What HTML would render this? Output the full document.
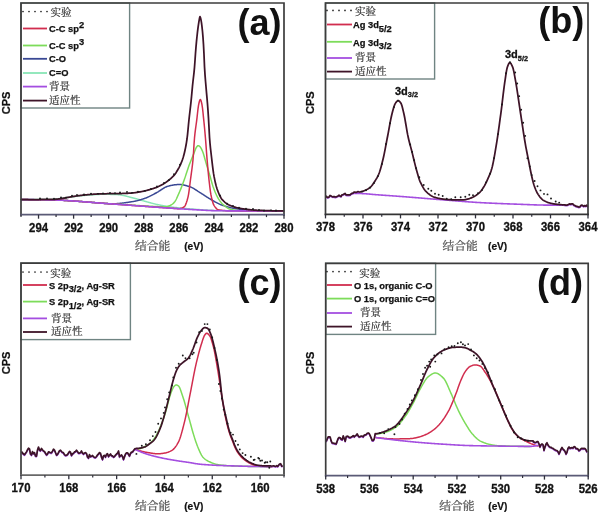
<!DOCTYPE html>
<html><head><meta charset="utf-8"><style>
html,body{margin:0;padding:0;background:#fff;}
svg{display:block;}
.tk{font-family:"Liberation Sans",sans-serif;font-weight:bold;font-size:12.2px;text-anchor:middle;fill:#111;stroke:#111;stroke-width:0.3px;}
.lg{font-family:"Liberation Sans",sans-serif;font-weight:bold;font-size:9.3px;fill:#111;stroke:#111;stroke-width:0.25px;}
.pk{font-family:"Liberation Sans",sans-serif;font-weight:bold;font-size:11px;fill:#111;stroke:#111;stroke-width:0.3px;}
.pks{font-size:7.3px;}
.cjk{font-family:"Liberation Serif","Noto Serif CJK SC",serif;font-size:10.5px;fill:#333;stroke:#333;stroke-width:0.2px;}
.cjkx{font-family:"Liberation Serif","Noto Serif CJK SC",serif;font-size:11.8px;fill:#555;stroke:#555;stroke-width:0.25px;}
.evx{font-family:"Liberation Sans",sans-serif;font-weight:bold;font-size:11.3px;fill:#111;stroke:#111;stroke-width:0.2px;}
.cps{font-family:"Liberation Sans",sans-serif;font-weight:bold;font-size:11px;fill:#111;text-anchor:middle;stroke:#111;stroke-width:0.25px;}
.big{font-family:"Liberation Sans",sans-serif;font-weight:bold;font-size:36px;fill:#111;}
</style></head><body>
<svg width="600" height="513" viewBox="0 0 600 513">
<rect width="600" height="513" fill="#fff"/>
<path d="M21.50,199.60 L22.00,199.60 L22.50,199.60 L23.00,199.60 L23.50,199.60 L24.00,199.60 L24.50,199.60 L25.00,199.60 L25.50,199.60 L26.00,199.60 L26.50,199.60 L27.00,199.60 L27.50,199.60 L28.00,199.60 L28.50,199.59 L29.00,199.59 L29.50,199.59 L30.00,199.59 L30.50,199.59 L31.00,199.59 L31.50,199.59 L32.00,199.59 L32.50,199.59 L33.00,199.58 L33.50,199.58 L34.00,199.58 L34.50,199.58 L35.00,199.58 L35.50,199.58 L36.00,199.58 L36.50,199.57 L37.00,199.57 L37.50,199.57 L38.00,199.57 L38.50,199.57 L39.00,199.56 L39.50,199.56 L40.00,199.56 L40.50,199.56 L41.00,199.56 L41.50,199.55 L42.00,199.55 L42.50,199.55 L43.00,199.55 L43.50,199.54 L44.00,199.54 L44.50,199.54 L45.00,199.53 L45.50,199.53 L46.00,199.53 L46.50,199.52 L47.00,199.52 L47.50,199.52 L48.00,199.51 L48.50,199.51 L49.00,199.51 L49.50,199.50 L50.00,199.50 L50.50,199.49 L51.00,199.48 L51.50,199.45 L52.00,199.42 L52.50,199.39 L53.00,199.35 L53.50,199.30 L54.00,199.25 L54.50,199.19 L55.00,199.13 L55.50,199.06 L56.00,199.00 L56.50,198.93 L57.00,198.85 L57.50,198.78 L58.00,198.71 L58.50,198.63 L59.00,198.56 L59.50,198.48 L60.00,198.41 L60.50,198.33 L61.00,198.26 L61.50,198.19 L62.00,198.12 L62.50,198.06 L63.00,198.00 L63.50,197.94 L64.00,197.88 L64.50,197.82 L65.00,197.76 L65.50,197.70 L66.00,197.64 L66.50,197.57 L67.00,197.51 L67.50,197.44 L68.00,197.38 L68.50,197.31 L69.00,197.25 L69.50,197.18 L70.00,197.12 L70.50,197.05 L71.00,196.99 L71.50,196.92 L72.00,196.85 L72.50,196.79 L73.00,196.72 L73.50,196.66 L74.00,196.59 L74.50,196.53 L75.00,196.47 L75.50,196.40 L76.00,196.34 L76.50,196.28 L77.00,196.22 L77.50,196.15 L78.00,196.09 L78.50,196.04 L79.00,195.98 L79.50,195.92 L80.00,195.86 L80.50,195.81 L81.00,195.76 L81.50,195.70 L82.00,195.65 L82.50,195.60 L83.00,195.55 L83.50,195.51 L84.00,195.46 L84.50,195.42 L85.00,195.38 L85.50,195.34 L86.00,195.30 L86.50,195.26 L87.00,195.22 L87.50,195.19 L88.00,195.15 L88.50,195.11 L89.00,195.07 L89.50,195.03 L90.00,194.99 L90.50,194.96 L91.00,194.92 L91.50,194.88 L92.00,194.84 L92.50,194.81 L93.00,194.77 L93.50,194.73 L94.00,194.70 L94.50,194.67 L95.00,194.63 L95.50,194.60 L96.00,194.57 L96.50,194.54 L97.00,194.51 L97.50,194.49 L98.00,194.46 L98.50,194.44 L99.00,194.41 L99.50,194.39 L100.00,194.37 L100.50,194.36 L101.00,194.34 L101.50,194.33 L102.00,194.32 L102.50,194.31 L103.00,194.31 L103.50,194.30 L104.00,194.30 L104.50,194.30 L105.00,194.30 L105.50,194.30 L106.00,194.31 L106.50,194.31 L107.00,194.32 L107.50,194.33 L108.00,194.33 L108.50,194.34 L109.00,194.35 L109.50,194.36 L110.00,194.37 L110.50,194.38 L111.00,194.40 L111.50,194.41 L112.00,194.42 L112.50,194.44 L113.00,194.45 L113.50,194.47 L114.00,194.49 L114.50,194.51 L115.00,194.52 L115.50,194.54 L116.00,194.56 L116.50,194.58 L117.00,194.60 L117.50,194.62 L118.00,194.66 L118.50,194.70 L119.00,194.75 L119.50,194.81 L120.00,194.87 L120.50,194.95 L121.00,195.03 L121.50,195.11 L122.00,195.20 L122.50,195.30 L123.00,195.40 L123.50,195.51 L124.00,195.62 L124.50,195.73 L125.00,195.85 L125.50,195.98 L126.00,196.10 L126.50,196.23 L127.00,196.36 L127.50,196.49 L128.00,196.62 L128.50,196.75 L129.00,196.89 L129.50,197.02 L130.00,197.15 L130.50,197.29 L131.00,197.42 L131.50,197.55 L132.00,197.68 L132.50,197.80 L133.00,197.93 L133.50,198.05 L134.00,198.17 L134.50,198.30 L135.00,198.43 L135.50,198.57 L136.00,198.70 L136.50,198.84 L137.00,198.98 L137.50,199.12 L138.00,199.27 L138.50,199.41 L139.00,199.56 L139.50,199.71 L140.00,199.85 L140.50,200.00 L141.00,200.15 L141.50,200.30 L142.00,200.45 L142.50,200.59 L143.00,200.74 L143.50,200.88 L144.00,201.02 L144.50,201.16 L145.00,201.30 L145.50,201.44 L146.00,201.58 L146.50,201.72 L147.00,201.86 L147.50,202.00 L148.00,202.14 L148.50,202.28 L149.00,202.42 L149.50,202.56 L150.00,202.70 L150.50,202.84 L151.00,202.98 L151.50,203.11 L152.00,203.25 L152.50,203.38 L153.00,203.51 L153.50,203.64 L154.00,203.77 L154.50,203.89 L155.00,204.01 L155.50,204.13 L156.00,204.25 L156.50,204.36 L157.00,204.46 L157.50,204.57 L158.00,204.68 L158.50,204.78 L159.00,204.89 L159.50,204.99 L160.00,205.09 L160.50,205.19 L161.00,205.29 L161.50,205.39 L162.00,205.48 L162.50,205.58 L163.00,205.67 L163.50,205.76 L164.00,205.85 L164.50,205.94 L165.00,206.03 L165.50,206.11 L166.00,206.20 L166.50,206.28 L167.00,206.36 L167.50,206.44 L168.00,206.51 L168.50,206.59 L169.00,206.66 L169.50,206.73 L170.00,206.80 L170.50,206.87 L171.00,206.93 L171.50,207.00 L172.00,207.06 L172.50,207.13 L173.00,207.19 L173.50,207.25 L174.00,207.32 L174.50,207.38 L175.00,207.44 L175.50,207.50 L176.00,207.56 L176.50,207.61 L177.00,207.67 L177.50,207.73 L178.00,207.78 L178.50,207.84 L179.00,207.89 L179.50,207.95 L180.00,208.00 L180.50,208.05 L181.00,208.10 L181.50,208.15 L182.00,208.20 L182.50,208.25 L183.00,208.30 L183.50,208.35 L184.00,208.40 L184.50,208.44 L185.00,208.49 L185.50,208.53 L186.00,208.58 L186.50,208.62 L187.00,208.66 L187.50,208.70 L188.00,208.74 L188.50,208.78 L189.00,208.82 L189.50,208.86 L190.00,208.90 L190.50,208.94 L191.00,208.98 L191.50,209.01 L192.00,209.05 L192.50,209.09 L193.00,209.13 L193.50,209.16 L194.00,209.20 L194.50,209.24 L195.00,209.28 L195.50,209.32 L196.00,209.35 L196.50,209.39 L197.00,209.43 L197.50,209.46 L198.00,209.50 L198.50,209.54 L199.00,209.57 L199.50,209.61 L200.00,209.65 L200.50,209.68 L201.00,209.72 L201.50,209.75 L202.00,209.79 L202.50,209.82 L203.00,209.85 L203.50,209.89 L204.00,209.92 L204.50,209.95 L205.00,209.98 L205.50,210.02 L206.00,210.05 L206.50,210.08 L207.00,210.11 L207.50,210.14 L208.00,210.16 L208.50,210.19 L209.00,210.22 L209.50,210.25 L210.00,210.27 L210.50,210.30 L211.00,210.32 L211.50,210.34 L212.00,210.37 L212.50,210.39 L213.00,210.41 L213.50,210.43 L214.00,210.45 L214.50,210.47 L215.00,210.48 L215.50,210.50 L216.00,210.51 L216.50,210.53 L217.00,210.54 L217.50,210.55 L218.00,210.57 L218.50,210.58 L219.00,210.59 L219.50,210.59 L220.00,210.60 L220.50,210.61 L221.00,210.61 L221.50,210.62 L222.00,210.62 L222.50,210.63 L223.00,210.64 L223.50,210.64 L224.00,210.65 L224.50,210.65 L225.00,210.66 L225.50,210.67 L226.00,210.67 L226.50,210.68 L227.00,210.68 L227.50,210.69 L228.00,210.69 L228.50,210.70 L229.00,210.70 L229.50,210.71 L230.00,210.71 L230.50,210.72 L231.00,210.73 L231.50,210.73 L232.00,210.74 L232.50,210.74 L233.00,210.75 L233.50,210.75 L234.00,210.76 L234.50,210.76 L235.00,210.77 L235.50,210.77 L236.00,210.77 L236.50,210.78 L237.00,210.78 L237.50,210.79 L238.00,210.79 L238.50,210.80 L239.00,210.80 L239.50,210.81 L240.00,210.81 L240.50,210.81 L241.00,210.82 L241.50,210.82 L242.00,210.83 L242.50,210.83 L243.00,210.84 L243.50,210.84 L244.00,210.84 L244.50,210.85 L245.00,210.85 L245.50,210.85 L246.00,210.86 L246.50,210.86 L247.00,210.87 L247.50,210.87 L248.00,210.87 L248.50,210.88 L249.00,210.88 L249.50,210.88 L250.00,210.89 L250.50,210.89 L251.00,210.89 L251.50,210.90 L252.00,210.90 L252.50,210.90 L253.00,210.91 L253.50,210.91 L254.00,210.91 L254.50,210.91 L255.00,210.92 L255.50,210.92 L256.00,210.92 L256.50,210.93 L257.00,210.93 L257.50,210.93 L258.00,210.93 L258.50,210.94 L259.00,210.94 L259.50,210.94 L260.00,210.94 L260.50,210.95 L261.00,210.95 L261.50,210.95 L262.00,210.95 L262.50,210.95 L263.00,210.96 L263.50,210.96 L264.00,210.96 L264.50,210.96 L265.00,210.96 L265.50,210.97 L266.00,210.97 L266.50,210.97 L267.00,210.97 L267.50,210.97 L268.00,210.97 L268.50,210.98 L269.00,210.98 L269.50,210.98 L270.00,210.98 L270.50,210.98 L271.00,210.98 L271.50,210.98 L272.00,210.99 L272.50,210.99 L273.00,210.99 L273.50,210.99 L274.00,210.99 L274.50,210.99 L275.00,210.99 L275.50,210.99 L276.00,210.99 L276.50,210.99 L277.00,211.00 L277.50,211.00 L278.00,211.00 L278.50,211.00 L279.00,211.00 L279.50,211.00 L280.00,211.00 L280.50,211.00 L281.00,211.00 L281.50,211.00 L282.00,211.00 L282.50,211.00 L283.00,211.00 L283.50,211.00" fill="none" stroke="#88e6b6" stroke-width="1.50" stroke-linejoin="round" stroke-linecap="round"/>
<path d="M21.50,199.60 L22.00,199.60 L22.50,199.60 L23.00,199.60 L23.50,199.60 L24.00,199.60 L24.50,199.61 L25.00,199.61 L25.50,199.61 L26.00,199.61 L26.50,199.61 L27.00,199.62 L27.50,199.62 L28.00,199.62 L28.50,199.63 L29.00,199.63 L29.50,199.63 L30.00,199.64 L30.50,199.64 L31.00,199.64 L31.50,199.65 L32.00,199.65 L32.50,199.66 L33.00,199.66 L33.50,199.67 L34.00,199.67 L34.50,199.68 L35.00,199.68 L35.50,199.69 L36.00,199.69 L36.50,199.70 L37.00,199.71 L37.50,199.71 L38.00,199.72 L38.50,199.72 L39.00,199.73 L39.50,199.74 L40.00,199.74 L40.50,199.75 L41.00,199.76 L41.50,199.76 L42.00,199.77 L42.50,199.78 L43.00,199.79 L43.50,199.79 L44.00,199.80 L44.50,199.81 L45.00,199.82 L45.50,199.83 L46.00,199.83 L46.50,199.84 L47.00,199.85 L47.50,199.86 L48.00,199.87 L48.50,199.87 L49.00,199.88 L49.50,199.89 L50.00,199.90 L50.50,199.91 L51.00,199.92 L51.50,199.93 L52.00,199.94 L52.50,199.95 L53.00,199.96 L53.50,199.98 L54.00,199.99 L54.50,200.00 L55.00,200.02 L55.50,200.04 L56.00,200.05 L56.50,200.07 L57.00,200.09 L57.50,200.11 L58.00,200.12 L58.50,200.14 L59.00,200.16 L59.50,200.19 L60.00,200.21 L60.50,200.23 L61.00,200.25 L61.50,200.28 L62.00,200.30 L62.50,200.32 L63.00,200.35 L63.50,200.37 L64.00,200.40 L64.50,200.43 L65.00,200.45 L65.50,200.48 L66.00,200.51 L66.50,200.54 L67.00,200.57 L67.50,200.60 L68.00,200.63 L68.50,200.66 L69.00,200.69 L69.50,200.72 L70.00,200.75 L70.50,200.78 L71.00,200.82 L71.50,200.85 L72.00,200.88 L72.50,200.92 L73.00,200.95 L73.50,200.98 L74.00,201.02 L74.50,201.05 L75.00,201.09 L75.50,201.12 L76.00,201.16 L76.50,201.20 L77.00,201.23 L77.50,201.27 L78.00,201.31 L78.50,201.34 L79.00,201.38 L79.50,201.42 L80.00,201.46 L80.50,201.50 L81.00,201.53 L81.50,201.57 L82.00,201.61 L82.50,201.65 L83.00,201.69 L83.50,201.73 L84.00,201.77 L84.50,201.81 L85.00,201.85 L85.50,201.89 L86.00,201.93 L86.50,201.97 L87.00,202.01 L87.50,202.05 L88.00,202.09 L88.50,202.13 L89.00,202.17 L89.50,202.21 L90.00,202.25 L90.50,202.29 L91.00,202.33 L91.50,202.37 L92.00,202.41 L92.50,202.45 L93.00,202.49 L93.50,202.53 L94.00,202.58 L94.50,202.62 L95.00,202.66 L95.50,202.70 L96.00,202.74 L96.50,202.78 L97.00,202.82 L97.50,202.86 L98.00,202.90 L98.50,202.94 L99.00,202.98 L99.50,203.02 L100.00,203.06 L100.50,203.10 L101.00,203.13 L101.50,203.17 L102.00,203.21 L102.50,203.25 L103.00,203.29 L103.50,203.33 L104.00,203.37 L104.50,203.40 L105.00,203.44 L105.50,203.48 L106.00,203.51 L106.50,203.55 L107.00,203.59 L107.50,203.62 L108.00,203.66 L108.50,203.70 L109.00,203.73 L109.50,203.77 L110.00,203.80 L110.50,203.83 L111.00,203.87 L111.50,203.89 L112.00,203.87 L112.50,203.86 L113.00,203.84 L113.50,203.82 L114.00,203.80 L114.50,203.78 L115.00,203.75 L115.50,203.72 L116.00,203.69 L116.50,203.65 L117.00,203.61 L117.50,203.57 L118.00,203.53 L118.50,203.49 L119.00,203.44 L119.50,203.39 L120.00,203.34 L120.50,203.29 L121.00,203.23 L121.50,203.18 L122.00,203.12 L122.50,203.06 L123.00,203.00 L123.50,202.93 L124.00,202.87 L124.50,202.81 L125.00,202.74 L125.50,202.67 L126.00,202.60 L126.50,202.53 L127.00,202.46 L127.50,202.39 L128.00,202.31 L128.50,202.24 L129.00,202.17 L129.50,202.09 L130.00,202.01 L130.50,201.94 L131.00,201.86 L131.50,201.78 L132.00,201.70 L132.50,201.63 L133.00,201.55 L133.50,201.47 L134.00,201.38 L134.50,201.29 L135.00,201.20 L135.50,201.09 L136.00,200.98 L136.50,200.87 L137.00,200.75 L137.50,200.63 L138.00,200.50 L138.50,200.36 L139.00,200.22 L139.50,200.08 L140.00,199.94 L140.50,199.79 L141.00,199.63 L141.50,199.47 L142.00,199.31 L142.50,199.15 L143.00,198.99 L143.50,198.82 L144.00,198.65 L144.50,198.47 L145.00,198.30 L145.50,198.12 L146.00,197.93 L146.50,197.73 L147.00,197.53 L147.50,197.31 L148.00,197.09 L148.50,196.86 L149.00,196.62 L149.50,196.38 L150.00,196.14 L150.50,195.89 L151.00,195.63 L151.50,195.37 L152.00,195.11 L152.50,194.85 L153.00,194.58 L153.50,194.31 L154.00,194.05 L154.50,193.78 L155.00,193.51 L155.50,193.24 L156.00,192.97 L156.50,192.71 L157.00,192.44 L157.50,192.16 L158.00,191.86 L158.50,191.56 L159.00,191.24 L159.50,190.91 L160.00,190.58 L160.50,190.25 L161.00,189.92 L161.50,189.58 L162.00,189.25 L162.50,188.93 L163.00,188.61 L163.50,188.30 L164.00,188.00 L164.50,187.71 L165.00,187.44 L165.50,187.19 L166.00,186.96 L166.50,186.75 L167.00,186.56 L167.50,186.40 L168.00,186.25 L168.50,186.11 L169.00,185.97 L169.50,185.84 L170.00,185.71 L170.50,185.59 L171.00,185.47 L171.50,185.36 L172.00,185.25 L172.50,185.15 L173.00,185.06 L173.50,184.98 L174.00,184.90 L174.50,184.83 L175.00,184.78 L175.50,184.73 L176.00,184.68 L176.50,184.64 L177.00,184.61 L177.50,184.57 L178.00,184.54 L178.50,184.52 L179.00,184.51 L179.50,184.50 L180.00,184.51 L180.50,184.53 L181.00,184.57 L181.50,184.62 L182.00,184.68 L182.50,184.76 L183.00,184.85 L183.50,184.95 L184.00,185.05 L184.50,185.17 L185.00,185.29 L185.50,185.43 L186.00,185.56 L186.50,185.71 L187.00,185.86 L187.50,186.01 L188.00,186.16 L188.50,186.32 L189.00,186.48 L189.50,186.64 L190.00,186.80 L190.50,186.97 L191.00,187.17 L191.50,187.38 L192.00,187.62 L192.50,187.87 L193.00,188.14 L193.50,188.43 L194.00,188.72 L194.50,189.03 L195.00,189.34 L195.50,189.67 L196.00,190.00 L196.50,190.33 L197.00,190.66 L197.50,190.99 L198.00,191.33 L198.50,191.65 L199.00,191.98 L199.50,192.29 L200.00,192.60 L200.50,192.90 L201.00,193.21 L201.50,193.53 L202.00,193.85 L202.50,194.17 L203.00,194.49 L203.50,194.82 L204.00,195.14 L204.50,195.47 L205.00,195.80 L205.50,196.13 L206.00,196.45 L206.50,196.78 L207.00,197.10 L207.50,197.42 L208.00,197.74 L208.50,198.05 L209.00,198.36 L209.50,198.67 L210.00,198.97 L210.50,199.26 L211.00,199.54 L211.50,199.82 L212.00,200.11 L212.50,200.39 L213.00,200.68 L213.50,200.96 L214.00,201.24 L214.50,201.53 L215.00,201.81 L215.50,202.08 L216.00,202.36 L216.50,202.63 L217.00,202.89 L217.50,203.15 L218.00,203.40 L218.50,203.65 L219.00,203.89 L219.50,204.12 L220.00,204.34 L220.50,204.56 L221.00,204.76 L221.50,204.95 L222.00,205.13 L222.50,205.30 L223.00,205.47 L223.50,205.63 L224.00,205.80 L224.50,205.96 L225.00,206.11 L225.50,206.27 L226.00,206.42 L226.50,206.57 L227.00,206.71 L227.50,206.86 L228.00,207.00 L228.50,207.13 L229.00,207.27 L229.50,207.40 L230.00,207.52 L230.50,207.65 L231.00,207.77 L231.50,207.88 L232.00,207.99 L232.50,208.10 L233.00,208.21 L233.50,208.31 L234.00,208.40 L234.50,208.50 L235.00,208.59 L235.50,208.67 L236.00,208.75 L236.50,208.83 L237.00,208.90 L237.50,208.97 L238.00,209.04 L238.50,209.11 L239.00,209.17 L239.50,209.24 L240.00,209.31 L240.50,209.37 L241.00,209.43 L241.50,209.50 L242.00,209.56 L242.50,209.62 L243.00,209.68 L243.50,209.74 L244.00,209.79 L244.50,209.85 L245.00,209.90 L245.50,209.95 L246.00,210.01 L246.50,210.06 L247.00,210.10 L247.50,210.15 L248.00,210.19 L248.50,210.24 L249.00,210.28 L249.50,210.32 L250.00,210.35 L250.50,210.39 L251.00,210.42 L251.50,210.45 L252.00,210.48 L252.50,210.50 L253.00,210.53 L253.50,210.55 L254.00,210.57 L254.50,210.59 L255.00,210.60 L255.50,210.61 L256.00,210.63 L256.50,210.64 L257.00,210.65 L257.50,210.66 L258.00,210.67 L258.50,210.69 L259.00,210.70 L259.50,210.71 L260.00,210.72 L260.50,210.73 L261.00,210.74 L261.50,210.75 L262.00,210.76 L262.50,210.77 L263.00,210.78 L263.50,210.79 L264.00,210.80 L264.50,210.81 L265.00,210.82 L265.50,210.83 L266.00,210.84 L266.50,210.85 L267.00,210.85 L267.50,210.86 L268.00,210.87 L268.50,210.88 L269.00,210.89 L269.50,210.89 L270.00,210.90 L270.50,210.91 L271.00,210.91 L271.50,210.92 L272.00,210.93 L272.50,210.93 L273.00,210.94 L273.50,210.94 L274.00,210.95 L274.50,210.95 L275.00,210.96 L275.50,210.96 L276.00,210.97 L276.50,210.97 L277.00,210.97 L277.50,210.98 L278.00,210.98 L278.50,210.98 L279.00,210.99 L279.50,210.99 L280.00,210.99 L280.50,210.99 L281.00,211.00 L281.50,211.00 L282.00,211.00 L282.50,211.00 L283.00,211.00 L283.50,211.00" fill="none" stroke="#3a4894" stroke-width="1.50" stroke-linejoin="round" stroke-linecap="round"/>
<path d="M21.50,199.60 L22.00,199.60 L22.50,199.60 L23.00,199.60 L23.50,199.60 L24.00,199.60 L24.50,199.61 L25.00,199.61 L25.50,199.61 L26.00,199.61 L26.50,199.61 L27.00,199.62 L27.50,199.62 L28.00,199.62 L28.50,199.63 L29.00,199.63 L29.50,199.63 L30.00,199.64 L30.50,199.64 L31.00,199.65 L31.50,199.65 L32.00,199.65 L32.50,199.66 L33.00,199.66 L33.50,199.67 L34.00,199.67 L34.50,199.68 L35.00,199.68 L35.50,199.69 L36.00,199.70 L36.50,199.70 L37.00,199.71 L37.50,199.71 L38.00,199.72 L38.50,199.73 L39.00,199.73 L39.50,199.74 L40.00,199.75 L40.50,199.75 L41.00,199.76 L41.50,199.77 L42.00,199.78 L42.50,199.78 L43.00,199.79 L43.50,199.80 L44.00,199.80 L44.50,199.81 L45.00,199.82 L45.50,199.83 L46.00,199.84 L46.50,199.84 L47.00,199.85 L47.50,199.86 L48.00,199.87 L48.50,199.88 L49.00,199.88 L49.50,199.89 L50.00,199.90 L50.50,199.91 L51.00,199.92 L51.50,199.93 L52.00,199.94 L52.50,199.95 L53.00,199.96 L53.50,199.98 L54.00,199.99 L54.50,200.00 L55.00,200.02 L55.50,200.04 L56.00,200.05 L56.50,200.07 L57.00,200.09 L57.50,200.11 L58.00,200.12 L58.50,200.14 L59.00,200.16 L59.50,200.19 L60.00,200.21 L60.50,200.23 L61.00,200.25 L61.50,200.28 L62.00,200.30 L62.50,200.32 L63.00,200.35 L63.50,200.37 L64.00,200.40 L64.50,200.43 L65.00,200.45 L65.50,200.48 L66.00,200.51 L66.50,200.54 L67.00,200.57 L67.50,200.60 L68.00,200.63 L68.50,200.66 L69.00,200.69 L69.50,200.72 L70.00,200.75 L70.50,200.78 L71.00,200.82 L71.50,200.85 L72.00,200.88 L72.50,200.92 L73.00,200.95 L73.50,200.98 L74.00,201.02 L74.50,201.05 L75.00,201.09 L75.50,201.12 L76.00,201.16 L76.50,201.20 L77.00,201.23 L77.50,201.27 L78.00,201.31 L78.50,201.34 L79.00,201.38 L79.50,201.42 L80.00,201.46 L80.50,201.50 L81.00,201.53 L81.50,201.57 L82.00,201.61 L82.50,201.65 L83.00,201.69 L83.50,201.73 L84.00,201.77 L84.50,201.81 L85.00,201.85 L85.50,201.89 L86.00,201.93 L86.50,201.97 L87.00,202.01 L87.50,202.05 L88.00,202.09 L88.50,202.13 L89.00,202.17 L89.50,202.21 L90.00,202.25 L90.50,202.29 L91.00,202.33 L91.50,202.37 L92.00,202.41 L92.50,202.45 L93.00,202.49 L93.50,202.53 L94.00,202.58 L94.50,202.62 L95.00,202.66 L95.50,202.70 L96.00,202.74 L96.50,202.78 L97.00,202.82 L97.50,202.86 L98.00,202.90 L98.50,202.94 L99.00,202.98 L99.50,203.02 L100.00,203.06 L100.50,203.10 L101.00,203.13 L101.50,203.17 L102.00,203.21 L102.50,203.25 L103.00,203.29 L103.50,203.33 L104.00,203.37 L104.50,203.40 L105.00,203.44 L105.50,203.48 L106.00,203.51 L106.50,203.55 L107.00,203.59 L107.50,203.62 L108.00,203.66 L108.50,203.70 L109.00,203.73 L109.50,203.77 L110.00,203.80 L110.50,203.83 L111.00,203.87 L111.50,203.90 L112.00,203.94 L112.50,203.97 L113.00,204.01 L113.50,204.04 L114.00,204.07 L114.50,204.10 L115.00,204.13 L115.50,204.15 L116.00,204.18 L116.50,204.21 L117.00,204.24 L117.50,204.26 L118.00,204.29 L118.50,204.32 L119.00,204.35 L119.50,204.37 L120.00,204.40 L120.50,204.43 L121.00,204.46 L121.50,204.48 L122.00,204.51 L122.50,204.54 L123.00,204.57 L123.50,204.60 L124.00,204.63 L124.50,204.66 L125.00,204.69 L125.50,204.72 L126.00,204.75 L126.50,204.78 L127.00,204.81 L127.50,204.85 L128.00,204.88 L128.50,204.91 L129.00,204.94 L129.50,204.97 L130.00,205.01 L130.50,205.04 L131.00,205.07 L131.50,205.10 L132.00,205.13 L132.50,205.17 L133.00,205.20 L133.50,205.23 L134.00,205.26 L134.50,205.30 L135.00,205.33 L135.50,205.36 L136.00,205.39 L136.50,205.43 L137.00,205.46 L137.50,205.49 L138.00,205.52 L138.50,205.55 L139.00,205.58 L139.50,205.62 L140.00,205.65 L140.50,205.68 L141.00,205.71 L141.50,205.74 L142.00,205.77 L142.50,205.80 L143.00,205.83 L143.50,205.86 L144.00,205.88 L144.50,205.91 L145.00,205.94 L145.50,205.97 L146.00,206.00 L146.50,206.02 L147.00,206.05 L147.50,206.08 L148.00,206.10 L148.50,206.13 L149.00,206.15 L149.50,206.18 L150.00,206.20 L150.50,206.22 L151.00,206.25 L151.50,206.27 L152.00,206.30 L152.50,206.33 L153.00,206.35 L153.50,206.38 L154.00,206.41 L154.50,206.43 L155.00,206.46 L155.50,206.49 L156.00,206.51 L156.50,206.54 L157.00,206.56 L157.50,206.59 L158.00,206.61 L158.50,206.63 L159.00,206.66 L159.50,206.68 L160.00,206.70 L160.50,206.71 L161.00,206.73 L161.50,206.75 L162.00,206.76 L162.50,206.77 L163.00,206.78 L163.50,206.79 L164.00,206.80 L164.50,206.80 L165.00,206.80 L165.50,206.78 L166.00,206.73 L166.50,206.64 L167.00,206.53 L167.50,206.39 L168.00,206.24 L168.50,206.07 L169.00,205.88 L169.50,205.69 L170.00,205.50 L170.50,205.28 L171.00,205.02 L171.50,204.72 L172.00,204.38 L172.50,204.00 L173.00,203.58 L173.50,203.12 L174.00,202.62 L174.50,202.09 L175.00,201.44 L175.50,200.65 L176.00,199.75 L176.50,198.75 L177.00,197.68 L177.50,196.56 L178.00,195.40 L178.50,194.23 L179.00,193.08 L179.50,191.95 L180.00,190.79 L180.50,189.60 L181.00,188.37 L181.50,187.11 L182.00,185.83 L182.50,184.52 L183.00,183.19 L183.50,181.84 L184.00,180.47 L184.50,179.08 L185.00,177.62 L185.50,176.12 L186.00,174.59 L186.50,173.04 L187.00,171.49 L187.50,169.95 L188.00,168.45 L188.50,166.99 L189.00,165.60 L189.50,164.26 L190.00,162.96 L190.50,161.69 L191.00,160.44 L191.50,159.20 L192.00,157.99 L192.50,156.78 L193.00,155.58 L193.50,154.37 L194.00,153.15 L194.50,151.84 L195.00,150.47 L195.50,149.17 L196.00,148.04 L196.50,147.20 L197.00,146.54 L197.50,145.97 L198.00,145.63 L198.50,145.65 L199.00,145.90 L199.50,146.31 L200.00,146.80 L200.50,147.35 L201.00,148.10 L201.50,149.04 L202.00,150.10 L202.50,151.23 L203.00,152.55 L203.50,154.08 L204.00,155.76 L204.50,157.53 L205.00,159.34 L205.50,161.14 L206.00,162.87 L206.50,164.52 L207.00,166.16 L207.50,167.80 L208.00,169.44 L208.50,171.09 L209.00,172.74 L209.50,174.40 L210.00,176.08 L210.50,177.83 L211.00,179.62 L211.50,181.42 L212.00,183.19 L212.50,184.88 L213.00,186.46 L213.50,187.87 L214.00,189.20 L214.50,190.49 L215.00,191.74 L215.50,192.93 L216.00,194.07 L216.50,195.15 L217.00,196.17 L217.50,197.13 L218.00,198.01 L218.50,198.82 L219.00,199.58 L219.50,200.32 L220.00,201.02 L220.50,201.68 L221.00,202.31 L221.50,202.89 L222.00,203.44 L222.50,203.95 L223.00,204.42 L223.50,204.86 L224.00,205.29 L224.50,205.71 L225.00,206.12 L225.50,206.52 L226.00,206.90 L226.50,207.27 L227.00,207.62 L227.50,207.94 L228.00,208.25 L228.50,208.52 L229.00,208.76 L229.50,208.98 L230.00,209.16 L230.50,209.30 L231.00,209.42 L231.50,209.54 L232.00,209.65 L232.50,209.76 L233.00,209.87 L233.50,209.97 L234.00,210.06 L234.50,210.15 L235.00,210.23 L235.50,210.31 L236.00,210.38 L236.50,210.45 L237.00,210.51 L237.50,210.56 L238.00,210.60 L238.50,210.64 L239.00,210.67 L239.50,210.69 L240.00,210.70 L240.50,210.71 L241.00,210.72 L241.50,210.72 L242.00,210.73 L242.50,210.74 L243.00,210.75 L243.50,210.75 L244.00,210.76 L244.50,210.77 L245.00,210.77 L245.50,210.78 L246.00,210.79 L246.50,210.79 L247.00,210.80 L247.50,210.81 L248.00,210.81 L248.50,210.82 L249.00,210.82 L249.50,210.83 L250.00,210.84 L250.50,210.84 L251.00,210.85 L251.50,210.85 L252.00,210.86 L252.50,210.86 L253.00,210.87 L253.50,210.87 L254.00,210.88 L254.50,210.88 L255.00,210.89 L255.50,210.89 L256.00,210.90 L256.50,210.90 L257.00,210.90 L257.50,210.91 L258.00,210.91 L258.50,210.92 L259.00,210.92 L259.50,210.92 L260.00,210.93 L260.50,210.93 L261.00,210.93 L261.50,210.94 L262.00,210.94 L262.50,210.94 L263.00,210.95 L263.50,210.95 L264.00,210.95 L264.50,210.95 L265.00,210.96 L265.50,210.96 L266.00,210.96 L266.50,210.96 L267.00,210.97 L267.50,210.97 L268.00,210.97 L268.50,210.97 L269.00,210.97 L269.50,210.98 L270.00,210.98 L270.50,210.98 L271.00,210.98 L271.50,210.98 L272.00,210.98 L272.50,210.99 L273.00,210.99 L273.50,210.99 L274.00,210.99 L274.50,210.99 L275.00,210.99 L275.50,210.99 L276.00,210.99 L276.50,210.99 L277.00,210.99 L277.50,211.00 L278.00,211.00 L278.50,211.00 L279.00,211.00 L279.50,211.00 L280.00,211.00 L280.50,211.00 L281.00,211.00 L281.50,211.00 L282.00,211.00 L282.50,211.00 L283.00,211.00 L283.50,211.00" fill="none" stroke="#7ddc5a" stroke-width="1.50" stroke-linejoin="round" stroke-linecap="round"/>
<path d="M21.50,199.60 L22.00,199.60 L22.50,199.60 L23.00,199.60 L23.50,199.60 L24.00,199.60 L24.50,199.61 L25.00,199.61 L25.50,199.61 L26.00,199.61 L26.50,199.61 L27.00,199.62 L27.50,199.62 L28.00,199.62 L28.50,199.63 L29.00,199.63 L29.50,199.63 L30.00,199.64 L30.50,199.64 L31.00,199.65 L31.50,199.65 L32.00,199.65 L32.50,199.66 L33.00,199.66 L33.50,199.67 L34.00,199.67 L34.50,199.68 L35.00,199.68 L35.50,199.69 L36.00,199.70 L36.50,199.70 L37.00,199.71 L37.50,199.71 L38.00,199.72 L38.50,199.73 L39.00,199.73 L39.50,199.74 L40.00,199.75 L40.50,199.75 L41.00,199.76 L41.50,199.77 L42.00,199.78 L42.50,199.78 L43.00,199.79 L43.50,199.80 L44.00,199.80 L44.50,199.81 L45.00,199.82 L45.50,199.83 L46.00,199.84 L46.50,199.84 L47.00,199.85 L47.50,199.86 L48.00,199.87 L48.50,199.88 L49.00,199.88 L49.50,199.89 L50.00,199.90 L50.50,199.91 L51.00,199.92 L51.50,199.93 L52.00,199.94 L52.50,199.95 L53.00,199.96 L53.50,199.98 L54.00,199.99 L54.50,200.00 L55.00,200.02 L55.50,200.04 L56.00,200.05 L56.50,200.07 L57.00,200.09 L57.50,200.11 L58.00,200.12 L58.50,200.14 L59.00,200.16 L59.50,200.19 L60.00,200.21 L60.50,200.23 L61.00,200.25 L61.50,200.28 L62.00,200.30 L62.50,200.32 L63.00,200.35 L63.50,200.37 L64.00,200.40 L64.50,200.43 L65.00,200.45 L65.50,200.48 L66.00,200.51 L66.50,200.54 L67.00,200.57 L67.50,200.60 L68.00,200.63 L68.50,200.66 L69.00,200.69 L69.50,200.72 L70.00,200.75 L70.50,200.78 L71.00,200.82 L71.50,200.85 L72.00,200.88 L72.50,200.92 L73.00,200.95 L73.50,200.98 L74.00,201.02 L74.50,201.05 L75.00,201.09 L75.50,201.12 L76.00,201.16 L76.50,201.20 L77.00,201.23 L77.50,201.27 L78.00,201.31 L78.50,201.34 L79.00,201.38 L79.50,201.42 L80.00,201.46 L80.50,201.50 L81.00,201.53 L81.50,201.57 L82.00,201.61 L82.50,201.65 L83.00,201.69 L83.50,201.73 L84.00,201.77 L84.50,201.81 L85.00,201.85 L85.50,201.89 L86.00,201.93 L86.50,201.97 L87.00,202.01 L87.50,202.05 L88.00,202.09 L88.50,202.13 L89.00,202.17 L89.50,202.21 L90.00,202.25 L90.50,202.29 L91.00,202.33 L91.50,202.37 L92.00,202.41 L92.50,202.45 L93.00,202.49 L93.50,202.53 L94.00,202.58 L94.50,202.62 L95.00,202.66 L95.50,202.70 L96.00,202.74 L96.50,202.78 L97.00,202.82 L97.50,202.86 L98.00,202.90 L98.50,202.94 L99.00,202.98 L99.50,203.02 L100.00,203.06 L100.50,203.10 L101.00,203.13 L101.50,203.17 L102.00,203.21 L102.50,203.25 L103.00,203.29 L103.50,203.33 L104.00,203.37 L104.50,203.40 L105.00,203.44 L105.50,203.48 L106.00,203.51 L106.50,203.55 L107.00,203.59 L107.50,203.62 L108.00,203.66 L108.50,203.70 L109.00,203.73 L109.50,203.77 L110.00,203.80 L110.50,203.83 L111.00,203.87 L111.50,203.90 L112.00,203.94 L112.50,203.97 L113.00,204.01 L113.50,204.04 L114.00,204.08 L114.50,204.11 L115.00,204.15 L115.50,204.18 L116.00,204.22 L116.50,204.26 L117.00,204.29 L117.50,204.33 L118.00,204.36 L118.50,204.40 L119.00,204.44 L119.50,204.47 L120.00,204.51 L120.50,204.54 L121.00,204.58 L121.50,204.62 L122.00,204.65 L122.50,204.69 L123.00,204.73 L123.50,204.76 L124.00,204.80 L124.50,204.84 L125.00,204.87 L125.50,204.91 L126.00,204.95 L126.50,204.98 L127.00,205.02 L127.50,205.06 L128.00,205.09 L128.50,205.13 L129.00,205.17 L129.50,205.20 L130.00,205.24 L130.50,205.28 L131.00,205.32 L131.50,205.35 L132.00,205.39 L132.50,205.43 L133.00,205.46 L133.50,205.50 L134.00,205.54 L134.50,205.58 L135.00,205.61 L135.50,205.65 L136.00,205.69 L136.50,205.73 L137.00,205.76 L137.50,205.80 L138.00,205.84 L138.50,205.87 L139.00,205.91 L139.50,205.95 L140.00,205.99 L140.50,206.02 L141.00,206.06 L141.50,206.10 L142.00,206.13 L142.50,206.17 L143.00,206.21 L143.50,206.24 L144.00,206.28 L144.50,206.32 L145.00,206.35 L145.50,206.39 L146.00,206.43 L146.50,206.47 L147.00,206.50 L147.50,206.54 L148.00,206.57 L148.50,206.61 L149.00,206.65 L149.50,206.68 L150.00,206.72 L150.50,206.76 L151.00,206.79 L151.50,206.83 L152.00,206.87 L152.50,206.90 L153.00,206.94 L153.50,206.97 L154.00,207.01 L154.50,207.04 L155.00,207.08 L155.50,207.12 L156.00,207.15 L156.50,207.19 L157.00,207.22 L157.50,207.26 L158.00,207.29 L158.50,207.33 L159.00,207.36 L159.50,207.40 L160.00,207.43 L160.50,207.47 L161.00,207.50 L161.50,207.54 L162.00,207.57 L162.50,207.61 L163.00,207.64 L163.50,207.68 L164.00,207.71 L164.50,207.75 L165.00,207.79 L165.50,207.82 L166.00,207.86 L166.50,207.89 L167.00,207.93 L167.50,207.96 L168.00,207.99 L168.50,208.03 L169.00,208.06 L169.50,208.10 L170.00,208.13 L170.50,208.17 L171.00,208.20 L171.50,208.24 L172.00,208.27 L172.50,208.30 L173.00,208.34 L173.50,208.37 L174.00,208.41 L174.50,208.44 L175.00,208.47 L175.50,208.51 L176.00,208.54 L176.50,208.57 L177.00,208.61 L177.50,208.64 L178.00,208.67 L178.50,208.70 L179.00,208.74 L179.50,208.68 L180.00,208.58 L180.50,208.47 L181.00,208.32 L181.50,208.16 L182.00,207.97 L182.50,207.76 L183.00,207.53 L183.50,207.27 L184.00,207.00 L184.50,206.56 L185.00,205.84 L185.50,204.86 L186.00,203.65 L186.50,202.24 L187.00,200.67 L187.50,198.95 L188.00,197.11 L188.50,194.58 L189.00,191.30 L189.50,187.53 L190.00,183.52 L190.50,179.53 L191.00,175.79 L191.50,172.20 L192.00,168.49 L192.50,164.37 L193.00,159.57 L193.50,152.94 L194.00,144.56 L194.50,137.94 L195.00,133.19 L195.50,129.16 L196.00,125.49 L196.50,121.83 L197.00,117.82 L197.50,113.29 L198.00,108.88 L198.50,105.32 L199.00,102.98 L199.50,100.98 L200.00,99.65 L200.50,99.51 L201.00,100.63 L201.50,102.53 L202.00,104.78 L202.50,108.17 L203.00,112.66 L203.50,117.57 L204.00,122.41 L204.50,127.55 L205.00,133.03 L205.50,138.81 L206.00,145.13 L206.50,152.01 L207.00,158.50 L207.50,164.39 L208.00,169.99 L208.50,175.16 L209.00,179.81 L209.50,184.27 L210.00,188.44 L210.50,192.09 L211.00,195.00 L211.50,197.37 L212.00,199.55 L212.50,201.47 L213.00,203.11 L213.50,204.42 L214.00,205.36 L214.50,206.14 L215.00,206.86 L215.50,207.52 L216.00,208.11 L216.50,208.63 L217.00,209.06 L217.50,209.41 L218.00,209.66 L218.50,209.80 L219.00,209.89 L219.50,209.97 L220.00,210.05 L220.50,210.13 L221.00,210.20 L221.50,210.26 L222.00,210.32 L222.50,210.38 L223.00,210.43 L223.50,210.48 L224.00,210.53 L224.50,210.57 L225.00,210.61 L225.50,210.64 L226.00,210.67 L226.50,210.70 L227.00,210.72 L227.50,210.74 L228.00,210.76 L228.50,210.77 L229.00,210.79 L229.50,210.79 L230.00,210.80 L230.50,210.80 L231.00,210.81 L231.50,210.81 L232.00,210.82 L232.50,210.82 L233.00,210.83 L233.50,210.83 L234.00,210.83 L234.50,210.84 L235.00,210.84 L235.50,210.85 L236.00,210.85 L236.50,210.85 L237.00,210.86 L237.50,210.86 L238.00,210.86 L238.50,210.87 L239.00,210.87 L239.50,210.87 L240.00,210.88 L240.50,210.88 L241.00,210.88 L241.50,210.89 L242.00,210.89 L242.50,210.89 L243.00,210.90 L243.50,210.90 L244.00,210.90 L244.50,210.90 L245.00,210.91 L245.50,210.91 L246.00,210.91 L246.50,210.92 L247.00,210.92 L247.50,210.92 L248.00,210.92 L248.50,210.93 L249.00,210.93 L249.50,210.93 L250.00,210.93 L250.50,210.93 L251.00,210.94 L251.50,210.94 L252.00,210.94 L252.50,210.94 L253.00,210.95 L253.50,210.95 L254.00,210.95 L254.50,210.95 L255.00,210.95 L255.50,210.95 L256.00,210.95 L256.50,210.96 L257.00,210.96 L257.50,210.96 L258.00,210.96 L258.50,210.96 L259.00,210.96 L259.50,210.96 L260.00,210.97 L260.50,210.97 L261.00,210.97 L261.50,210.97 L262.00,210.97 L262.50,210.97 L263.00,210.97 L263.50,210.97 L264.00,210.98 L264.50,210.98 L265.00,210.98 L265.50,210.98 L266.00,210.98 L266.50,210.98 L267.00,210.98 L267.50,210.98 L268.00,210.98 L268.50,210.98 L269.00,210.99 L269.50,210.99 L270.00,210.99 L270.50,210.99 L271.00,210.99 L271.50,210.99 L272.00,210.99 L272.50,210.99 L273.00,210.99 L273.50,210.99 L274.00,210.99 L274.50,210.99 L275.00,210.99 L275.50,211.00 L276.00,211.00 L276.50,211.00 L277.00,211.00 L277.50,211.00 L278.00,211.00 L278.50,211.00 L279.00,211.00 L279.50,211.00 L280.00,211.00 L280.50,211.00 L281.00,211.00 L281.50,211.00 L282.00,211.00 L282.50,211.00 L283.00,211.00 L283.50,211.00" fill="none" stroke="#d12d4e" stroke-width="1.50" stroke-linejoin="round" stroke-linecap="round"/>
<path d="M21.50,199.60 L22.00,199.60 L22.50,199.60 L23.00,199.60 L23.50,199.60 L24.00,199.60 L24.50,199.61 L25.00,199.61 L25.50,199.61 L26.00,199.61 L26.50,199.61 L27.00,199.62 L27.50,199.62 L28.00,199.62 L28.50,199.63 L29.00,199.63 L29.50,199.63 L30.00,199.64 L30.50,199.64 L31.00,199.65 L31.50,199.65 L32.00,199.65 L32.50,199.66 L33.00,199.66 L33.50,199.67 L34.00,199.67 L34.50,199.68 L35.00,199.68 L35.50,199.69 L36.00,199.70 L36.50,199.70 L37.00,199.71 L37.50,199.71 L38.00,199.72 L38.50,199.73 L39.00,199.73 L39.50,199.74 L40.00,199.75 L40.50,199.75 L41.00,199.76 L41.50,199.77 L42.00,199.78 L42.50,199.78 L43.00,199.79 L43.50,199.80 L44.00,199.80 L44.50,199.81 L45.00,199.82 L45.50,199.83 L46.00,199.84 L46.50,199.84 L47.00,199.85 L47.50,199.86 L48.00,199.87 L48.50,199.88 L49.00,199.88 L49.50,199.89 L50.00,199.90 L50.50,199.91 L51.00,199.92 L51.50,199.93 L52.00,199.94 L52.50,199.95 L53.00,199.96 L53.50,199.98 L54.00,199.99 L54.50,200.00 L55.00,200.02 L55.50,200.04 L56.00,200.05 L56.50,200.07 L57.00,200.09 L57.50,200.11 L58.00,200.12 L58.50,200.14 L59.00,200.16 L59.50,200.19 L60.00,200.21 L60.50,200.23 L61.00,200.25 L61.50,200.28 L62.00,200.30 L62.50,200.32 L63.00,200.35 L63.50,200.37 L64.00,200.40 L64.50,200.43 L65.00,200.45 L65.50,200.48 L66.00,200.51 L66.50,200.54 L67.00,200.57 L67.50,200.60 L68.00,200.63 L68.50,200.66 L69.00,200.69 L69.50,200.72 L70.00,200.75 L70.50,200.78 L71.00,200.82 L71.50,200.85 L72.00,200.88 L72.50,200.92 L73.00,200.95 L73.50,200.98 L74.00,201.02 L74.50,201.05 L75.00,201.09 L75.50,201.12 L76.00,201.16 L76.50,201.20 L77.00,201.23 L77.50,201.27 L78.00,201.31 L78.50,201.34 L79.00,201.38 L79.50,201.42 L80.00,201.46 L80.50,201.50 L81.00,201.53 L81.50,201.57 L82.00,201.61 L82.50,201.65 L83.00,201.69 L83.50,201.73 L84.00,201.77 L84.50,201.81 L85.00,201.85 L85.50,201.89 L86.00,201.93 L86.50,201.97 L87.00,202.01 L87.50,202.05 L88.00,202.09 L88.50,202.13 L89.00,202.17 L89.50,202.21 L90.00,202.25 L90.50,202.29 L91.00,202.33 L91.50,202.37 L92.00,202.41 L92.50,202.45 L93.00,202.49 L93.50,202.53 L94.00,202.58 L94.50,202.62 L95.00,202.66 L95.50,202.70 L96.00,202.74 L96.50,202.78 L97.00,202.82 L97.50,202.86 L98.00,202.90 L98.50,202.94 L99.00,202.98 L99.50,203.02 L100.00,203.06 L100.50,203.10 L101.00,203.13 L101.50,203.17 L102.00,203.21 L102.50,203.25 L103.00,203.29 L103.50,203.33 L104.00,203.37 L104.50,203.40 L105.00,203.44 L105.50,203.48 L106.00,203.51 L106.50,203.55 L107.00,203.59 L107.50,203.62 L108.00,203.66 L108.50,203.70 L109.00,203.73 L109.50,203.77 L110.00,203.80 L110.50,203.83 L111.00,203.87 L111.50,203.90 L112.00,203.94 L112.50,203.97 L113.00,204.01 L113.50,204.04 L114.00,204.08 L114.50,204.11 L115.00,204.15 L115.50,204.18 L116.00,204.22 L116.50,204.26 L117.00,204.29 L117.50,204.33 L118.00,204.36 L118.50,204.40 L119.00,204.44 L119.50,204.47 L120.00,204.51 L120.50,204.54 L121.00,204.58 L121.50,204.62 L122.00,204.65 L122.50,204.69 L123.00,204.73 L123.50,204.76 L124.00,204.80 L124.50,204.84 L125.00,204.87 L125.50,204.91 L126.00,204.95 L126.50,204.98 L127.00,205.02 L127.50,205.06 L128.00,205.09 L128.50,205.13 L129.00,205.17 L129.50,205.20 L130.00,205.24 L130.50,205.28 L131.00,205.32 L131.50,205.35 L132.00,205.39 L132.50,205.43 L133.00,205.46 L133.50,205.50 L134.00,205.54 L134.50,205.58 L135.00,205.61 L135.50,205.65 L136.00,205.69 L136.50,205.73 L137.00,205.76 L137.50,205.80 L138.00,205.84 L138.50,205.87 L139.00,205.91 L139.50,205.95 L140.00,205.99 L140.50,206.02 L141.00,206.06 L141.50,206.10 L142.00,206.13 L142.50,206.17 L143.00,206.21 L143.50,206.24 L144.00,206.28 L144.50,206.32 L145.00,206.35 L145.50,206.39 L146.00,206.43 L146.50,206.47 L147.00,206.50 L147.50,206.54 L148.00,206.57 L148.50,206.61 L149.00,206.65 L149.50,206.68 L150.00,206.72 L150.50,206.76 L151.00,206.79 L151.50,206.83 L152.00,206.87 L152.50,206.90 L153.00,206.94 L153.50,206.97 L154.00,207.01 L154.50,207.04 L155.00,207.08 L155.50,207.12 L156.00,207.15 L156.50,207.19 L157.00,207.22 L157.50,207.26 L158.00,207.29 L158.50,207.33 L159.00,207.36 L159.50,207.40 L160.00,207.43 L160.50,207.47 L161.00,207.50 L161.50,207.54 L162.00,207.57 L162.50,207.61 L163.00,207.64 L163.50,207.68 L164.00,207.71 L164.50,207.75 L165.00,207.79 L165.50,207.82 L166.00,207.86 L166.50,207.89 L167.00,207.93 L167.50,207.96 L168.00,207.99 L168.50,208.03 L169.00,208.06 L169.50,208.10 L170.00,208.13 L170.50,208.17 L171.00,208.20 L171.50,208.24 L172.00,208.27 L172.50,208.30 L173.00,208.34 L173.50,208.37 L174.00,208.41 L174.50,208.44 L175.00,208.47 L175.50,208.51 L176.00,208.54 L176.50,208.57 L177.00,208.61 L177.50,208.64 L178.00,208.67 L178.50,208.70 L179.00,208.74 L179.50,208.77 L180.00,208.80 L180.50,208.83 L181.00,208.86 L181.50,208.90 L182.00,208.93 L182.50,208.96 L183.00,208.99 L183.50,209.02 L184.00,209.06 L184.50,209.09 L185.00,209.12 L185.50,209.15 L186.00,209.18 L186.50,209.21 L187.00,209.24 L187.50,209.28 L188.00,209.31 L188.50,209.34 L189.00,209.37 L189.50,209.40 L190.00,209.43 L190.50,209.46 L191.00,209.49 L191.50,209.52 L192.00,209.55 L192.50,209.58 L193.00,209.61 L193.50,209.64 L194.00,209.67 L194.50,209.70 L195.00,209.73 L195.50,209.75 L196.00,209.78 L196.50,209.81 L197.00,209.84 L197.50,209.87 L198.00,209.89 L198.50,209.92 L199.00,209.95 L199.50,209.97 L200.00,210.00 L200.50,210.03 L201.00,210.05 L201.50,210.08 L202.00,210.11 L202.50,210.14 L203.00,210.17 L203.50,210.19 L204.00,210.22 L204.50,210.25 L205.00,210.28 L205.50,210.31 L206.00,210.34 L206.50,210.37 L207.00,210.39 L207.50,210.42 L208.00,210.45 L208.50,210.47 L209.00,210.50 L209.50,210.52 L210.00,210.54 L210.50,210.57 L211.00,210.59 L211.50,210.61 L212.00,210.62 L212.50,210.64 L213.00,210.66 L213.50,210.67 L214.00,210.68 L214.50,210.69 L215.00,210.70 L215.50,210.71 L216.00,210.71 L216.50,210.72 L217.00,210.73 L217.50,210.73 L218.00,210.74 L218.50,210.75 L219.00,210.75 L219.50,210.76 L220.00,210.76 L220.50,210.77 L221.00,210.78 L221.50,210.78 L222.00,210.79 L222.50,210.79 L223.00,210.80 L223.50,210.80 L224.00,210.80 L224.50,210.81 L225.00,210.81 L225.50,210.82 L226.00,210.82 L226.50,210.83 L227.00,210.83 L227.50,210.83 L228.00,210.84 L228.50,210.84 L229.00,210.84 L229.50,210.85 L230.00,210.85 L230.50,210.85 L231.00,210.86 L231.50,210.86 L232.00,210.86 L232.50,210.87 L233.00,210.87 L233.50,210.87 L234.00,210.87 L234.50,210.88 L235.00,210.88 L235.50,210.88 L236.00,210.88 L236.50,210.89 L237.00,210.89 L237.50,210.89 L238.00,210.89 L238.50,210.89 L239.00,210.90 L239.50,210.90 L240.00,210.90 L240.50,210.90 L241.00,210.90 L241.50,210.91 L242.00,210.91 L242.50,210.91 L243.00,210.91 L243.50,210.91 L244.00,210.91 L244.50,210.92 L245.00,210.92 L245.50,210.92 L246.00,210.92 L246.50,210.92 L247.00,210.93 L247.50,210.93 L248.00,210.93 L248.50,210.93 L249.00,210.93 L249.50,210.93 L250.00,210.94 L250.50,210.94 L251.00,210.94 L251.50,210.94 L252.00,210.94 L252.50,210.94 L253.00,210.95 L253.50,210.95 L254.00,210.95 L254.50,210.95 L255.00,210.95 L255.50,210.95 L256.00,210.95 L256.50,210.96 L257.00,210.96 L257.50,210.96 L258.00,210.96 L258.50,210.96 L259.00,210.96 L259.50,210.96 L260.00,210.97 L260.50,210.97 L261.00,210.97 L261.50,210.97 L262.00,210.97 L262.50,210.97 L263.00,210.97 L263.50,210.97 L264.00,210.98 L264.50,210.98 L265.00,210.98 L265.50,210.98 L266.00,210.98 L266.50,210.98 L267.00,210.98 L267.50,210.98 L268.00,210.98 L268.50,210.98 L269.00,210.99 L269.50,210.99 L270.00,210.99 L270.50,210.99 L271.00,210.99 L271.50,210.99 L272.00,210.99 L272.50,210.99 L273.00,210.99 L273.50,210.99 L274.00,210.99 L274.50,210.99 L275.00,210.99 L275.50,211.00 L276.00,211.00 L276.50,211.00 L277.00,211.00 L277.50,211.00 L278.00,211.00 L278.50,211.00 L279.00,211.00 L279.50,211.00 L280.00,211.00 L280.50,211.00 L281.00,211.00 L281.50,211.00 L282.00,211.00 L282.50,211.00 L283.00,211.00 L283.50,211.00" fill="none" stroke="#a44ee0" stroke-width="1.60" stroke-linejoin="round" stroke-linecap="round"/>
<path d="M21.50,199.60 L22.00,199.60 L22.50,199.59 L23.00,199.59 L23.50,199.59 L24.00,199.59 L24.50,199.59 L25.00,199.58 L25.50,199.58 L26.00,199.58 L26.50,199.58 L27.00,199.58 L27.50,199.57 L28.00,199.57 L28.50,199.57 L29.00,199.57 L29.50,199.56 L30.00,199.56 L30.50,199.56 L31.00,199.55 L31.50,199.55 L32.00,199.55 L32.50,199.55 L33.00,199.54 L33.50,199.54 L34.00,199.54 L34.50,199.53 L35.00,199.53 L35.50,199.53 L36.00,199.53 L36.50,199.52 L37.00,199.52 L37.50,199.52 L38.00,199.51 L38.50,199.51 L39.00,199.51 L39.50,199.50 L40.00,199.50 L40.50,199.50 L41.00,199.49 L41.50,199.49 L42.00,199.49 L42.50,199.49 L43.00,199.48 L43.50,199.48 L44.00,199.48 L44.50,199.47 L45.00,199.47 L45.50,199.47 L46.00,199.46 L46.50,199.46 L47.00,199.46 L47.50,199.45 L48.00,199.45 L48.50,199.44 L49.00,199.44 L49.50,199.43 L50.00,199.43 L50.50,199.42 L51.00,199.41 L51.50,199.41 L52.00,199.40 L52.50,199.39 L53.00,199.37 L53.50,199.35 L54.00,199.33 L54.50,199.30 L55.00,199.27 L55.50,199.23 L56.00,199.19 L56.50,199.15 L57.00,199.10 L57.50,199.06 L58.00,199.01 L58.50,198.96 L59.00,198.91 L59.50,198.85 L60.00,198.80 L60.50,198.74 L61.00,198.67 L61.50,198.59 L62.00,198.51 L62.50,198.42 L63.00,198.32 L63.50,198.22 L64.00,198.12 L64.50,198.02 L65.00,197.92 L65.50,197.82 L66.00,197.72 L66.50,197.63 L67.00,197.55 L67.50,197.46 L68.00,197.38 L68.50,197.29 L69.00,197.21 L69.50,197.12 L70.00,197.04 L70.50,196.95 L71.00,196.87 L71.50,196.78 L72.00,196.70 L72.50,196.62 L73.00,196.54 L73.50,196.46 L74.00,196.38 L74.50,196.30 L75.00,196.22 L75.50,196.15 L76.00,196.07 L76.50,196.00 L77.00,195.93 L77.50,195.87 L78.00,195.80 L78.50,195.74 L79.00,195.67 L79.50,195.61 L80.00,195.55 L80.50,195.48 L81.00,195.42 L81.50,195.36 L82.00,195.30 L82.50,195.24 L83.00,195.18 L83.50,195.13 L84.00,195.07 L84.50,195.02 L85.00,194.96 L85.50,194.91 L86.00,194.86 L86.50,194.81 L87.00,194.76 L87.50,194.71 L88.00,194.67 L88.50,194.62 L89.00,194.58 L89.50,194.54 L90.00,194.50 L90.50,194.46 L91.00,194.42 L91.50,194.38 L92.00,194.34 L92.50,194.31 L93.00,194.27 L93.50,194.23 L94.00,194.19 L94.50,194.16 L95.00,194.12 L95.50,194.09 L96.00,194.05 L96.50,194.02 L97.00,193.99 L97.50,193.96 L98.00,193.93 L98.50,193.91 L99.00,193.88 L99.50,193.86 L100.00,193.84 L100.50,193.83 L101.00,193.81 L101.50,193.80 L102.00,193.80 L102.50,193.79 L103.00,193.78 L103.50,193.78 L104.00,193.77 L104.50,193.76 L105.00,193.76 L105.50,193.76 L106.00,193.75 L106.50,193.75 L107.00,193.74 L107.50,193.74 L108.00,193.74 L108.50,193.73 L109.00,193.73 L109.50,193.73 L110.00,193.72 L110.50,193.72 L111.00,193.71 L111.50,193.71 L112.00,193.70 L112.50,193.69 L113.00,193.69 L113.50,193.68 L114.00,193.67 L114.50,193.66 L115.00,193.66 L115.50,193.65 L116.00,193.64 L116.50,193.63 L117.00,193.62 L117.50,193.61 L118.00,193.60 L118.50,193.59 L119.00,193.58 L119.50,193.57 L120.00,193.55 L120.50,193.54 L121.00,193.53 L121.50,193.51 L122.00,193.50 L122.50,193.49 L123.00,193.47 L123.50,193.45 L124.00,193.44 L124.50,193.42 L125.00,193.40 L125.50,193.38 L126.00,193.35 L126.50,193.33 L127.00,193.31 L127.50,193.28 L128.00,193.26 L128.50,193.23 L129.00,193.20 L129.50,193.17 L130.00,193.14 L130.50,193.11 L131.00,193.07 L131.50,193.04 L132.00,193.00 L132.50,192.96 L133.00,192.91 L133.50,192.86 L134.00,192.81 L134.50,192.75 L135.00,192.69 L135.50,192.62 L136.00,192.55 L136.50,192.47 L137.00,192.40 L137.50,192.31 L138.00,192.23 L138.50,192.15 L139.00,192.06 L139.50,191.97 L140.00,191.88 L140.50,191.78 L141.00,191.69 L141.50,191.59 L142.00,191.50 L142.50,191.40 L143.00,191.30 L143.50,191.20 L144.00,191.09 L144.50,190.97 L145.00,190.86 L145.50,190.73 L146.00,190.61 L146.50,190.48 L147.00,190.35 L147.50,190.21 L148.00,190.08 L148.50,189.94 L149.00,189.79 L149.50,189.65 L150.00,189.50 L150.50,189.36 L151.00,189.21 L151.50,189.06 L152.00,188.91 L152.50,188.76 L153.00,188.60 L153.50,188.45 L154.00,188.29 L154.50,188.12 L155.00,187.95 L155.50,187.77 L156.00,187.59 L156.50,187.40 L157.00,187.20 L157.50,186.99 L158.00,186.78 L158.50,186.55 L159.00,186.32 L159.50,186.08 L160.00,185.83 L160.50,185.57 L161.00,185.30 L161.50,185.03 L162.00,184.75 L162.50,184.47 L163.00,184.18 L163.50,183.88 L164.00,183.58 L164.50,183.26 L165.00,182.94 L165.50,182.61 L166.00,182.27 L166.50,181.91 L167.00,181.55 L167.50,181.19 L168.00,180.81 L168.50,180.42 L169.00,180.02 L169.50,179.62 L170.00,179.20 L170.50,178.78 L171.00,178.34 L171.50,177.90 L172.00,177.44 L172.50,176.96 L173.00,176.47 L173.50,175.94 L174.00,175.39 L174.50,174.81 L175.00,174.20 L175.50,173.52 L176.00,172.75 L176.50,171.92 L177.00,171.06 L177.50,170.20 L178.00,169.34 L178.50,168.47 L179.00,167.57 L179.50,166.61 L180.00,165.58 L180.50,164.51 L181.00,163.38 L181.50,162.18 L182.00,160.89 L182.50,159.50 L183.00,157.97 L183.50,156.29 L184.00,154.44 L184.50,152.42 L185.00,150.24 L185.50,147.86 L186.00,145.24 L186.50,142.31 L187.00,139.00 L187.50,134.85 L188.00,129.82 L188.50,124.50 L189.00,119.50 L189.50,115.02 L190.00,110.73 L190.50,106.43 L191.00,101.92 L191.50,96.92 L192.00,91.41 L192.50,86.01 L193.00,81.28 L193.50,77.00 L194.00,72.57 L194.50,67.35 L195.00,60.55 L195.50,53.19 L196.00,46.86 L196.50,41.44 L197.00,36.47 L197.50,31.97 L198.00,27.93 L198.50,24.26 L199.00,21.08 L199.50,18.32 L200.00,16.60 L200.50,17.76 L201.00,19.96 L201.50,22.92 L202.00,26.82 L202.50,31.47 L203.00,37.39 L203.50,44.70 L204.00,54.46 L204.50,66.63 L205.00,74.61 L205.50,80.95 L206.00,86.80 L206.50,92.60 L207.00,98.07 L207.50,104.00 L208.00,110.80 L208.50,118.39 L209.00,127.60 L209.50,137.06 L210.00,143.32 L210.50,148.36 L211.00,152.76 L211.50,157.00 L212.00,161.36 L212.50,165.63 L213.00,169.65 L213.50,173.20 L214.00,176.14 L214.50,178.70 L215.00,181.06 L215.50,183.23 L216.00,185.22 L216.50,187.03 L217.00,188.66 L217.50,190.13 L218.00,191.46 L218.50,192.73 L219.00,193.93 L219.50,195.05 L220.00,196.10 L220.50,197.06 L221.00,197.93 L221.50,198.70 L222.00,199.36 L222.50,199.94 L223.00,200.47 L223.50,200.98 L224.00,201.46 L224.50,201.91 L225.00,202.34 L225.50,202.74 L226.00,203.12 L226.50,203.47 L227.00,203.81 L227.50,204.12 L228.00,204.40 L228.50,204.67 L229.00,204.92 L229.50,205.16 L230.00,205.37 L230.50,205.59 L231.00,205.79 L231.50,205.99 L232.00,206.18 L232.50,206.37 L233.00,206.55 L233.50,206.72 L234.00,206.89 L234.50,207.05 L235.00,207.20 L235.50,207.35 L236.00,207.49 L236.50,207.62 L237.00,207.75 L237.50,207.87 L238.00,207.99 L238.50,208.10 L239.00,208.20 L239.50,208.30 L240.00,208.39 L240.50,208.47 L241.00,208.55 L241.50,208.62 L242.00,208.70 L242.50,208.77 L243.00,208.84 L243.50,208.91 L244.00,208.98 L244.50,209.05 L245.00,209.12 L245.50,209.18 L246.00,209.25 L246.50,209.31 L247.00,209.37 L247.50,209.43 L248.00,209.49 L248.50,209.54 L249.00,209.60 L249.50,209.65 L250.00,209.70 L250.50,209.75 L251.00,209.80 L251.50,209.85 L252.00,209.90 L252.50,209.94 L253.00,209.98 L253.50,210.02 L254.00,210.06 L254.50,210.10 L255.00,210.14 L255.50,210.17 L256.00,210.20 L256.50,210.23 L257.00,210.26 L257.50,210.29 L258.00,210.32 L258.50,210.34 L259.00,210.36 L259.50,210.38 L260.00,210.40 L260.50,210.42 L261.00,210.43 L261.50,210.45 L262.00,210.47 L262.50,210.49 L263.00,210.50 L263.50,210.52 L264.00,210.53 L264.50,210.55 L265.00,210.57 L265.50,210.58 L266.00,210.60 L266.50,210.61 L267.00,210.63 L267.50,210.64 L268.00,210.65 L268.50,210.67 L269.00,210.68 L269.50,210.70 L270.00,210.71 L270.50,210.72 L271.00,210.73 L271.50,210.74 L272.00,210.76 L272.50,210.77 L273.00,210.78 L273.50,210.79 L274.00,210.80 L274.50,210.81 L275.00,210.82 L275.50,210.82 L276.00,210.83 L276.50,210.84 L277.00,210.85 L277.50,210.86 L278.00,210.86 L278.50,210.87 L279.00,210.87 L279.50,210.88 L280.00,210.88 L280.50,210.89 L281.00,210.89 L281.50,210.89 L282.00,210.90 L282.50,210.90 L283.00,210.90 L283.50,210.90" fill="none" stroke="#3e1428" stroke-width="1.75" stroke-linejoin="round" stroke-linecap="round"/>
<circle cx="40.00" cy="198.53" r="0.95" fill="#1a1a1a"/>
<circle cx="47.00" cy="198.34" r="0.95" fill="#1a1a1a"/>
<circle cx="54.00" cy="198.69" r="0.95" fill="#1a1a1a"/>
<circle cx="61.00" cy="197.46" r="0.95" fill="#1a1a1a"/>
<circle cx="66.00" cy="197.70" r="0.95" fill="#1a1a1a"/>
<circle cx="72.00" cy="195.76" r="0.95" fill="#1a1a1a"/>
<circle cx="77.00" cy="194.90" r="0.95" fill="#1a1a1a"/>
<circle cx="84.00" cy="194.43" r="0.95" fill="#1a1a1a"/>
<circle cx="91.00" cy="193.79" r="0.95" fill="#1a1a1a"/>
<circle cx="98.00" cy="193.84" r="0.95" fill="#1a1a1a"/>
<circle cx="103.00" cy="193.37" r="0.95" fill="#1a1a1a"/>
<circle cx="110.00" cy="192.97" r="0.95" fill="#1a1a1a"/>
<circle cx="115.00" cy="193.30" r="0.95" fill="#1a1a1a"/>
<circle cx="120.00" cy="192.48" r="0.95" fill="#1a1a1a"/>
<circle cx="127.00" cy="192.07" r="0.95" fill="#1a1a1a"/>
<circle cx="132.00" cy="192.85" r="0.95" fill="#1a1a1a"/>
<circle cx="138.00" cy="191.59" r="0.95" fill="#1a1a1a"/>
<circle cx="145.00" cy="190.84" r="0.95" fill="#1a1a1a"/>
<circle cx="151.00" cy="188.91" r="0.95" fill="#1a1a1a"/>
<circle cx="157.00" cy="186.45" r="0.95" fill="#1a1a1a"/>
<circle cx="164.00" cy="182.90" r="0.95" fill="#1a1a1a"/>
<circle cx="169.00" cy="179.95" r="0.95" fill="#1a1a1a"/>
<circle cx="174.00" cy="174.14" r="0.95" fill="#1a1a1a"/>
<circle cx="180.00" cy="164.59" r="0.95" fill="#1a1a1a"/>
<circle cx="220.00" cy="195.41" r="0.95" fill="#1a1a1a"/>
<circle cx="227.00" cy="203.70" r="0.95" fill="#1a1a1a"/>
<circle cx="233.00" cy="205.96" r="0.95" fill="#1a1a1a"/>
<circle cx="239.00" cy="207.70" r="0.95" fill="#1a1a1a"/>
<circle cx="246.00" cy="208.77" r="0.95" fill="#1a1a1a"/>
<circle cx="253.00" cy="209.01" r="0.95" fill="#1a1a1a"/>
<circle cx="259.00" cy="210.02" r="0.95" fill="#1a1a1a"/>
<circle cx="264.00" cy="210.43" r="0.95" fill="#1a1a1a"/>
<circle cx="271.00" cy="210.37" r="0.95" fill="#1a1a1a"/>
<circle cx="276.00" cy="210.51" r="0.95" fill="#1a1a1a"/>
<rect x="21.00" y="3.00" width="108.60" height="105.00" fill="#fff" stroke="#6f8482" stroke-width="1.4"/>
<path d="M21.00,214.70 L21.00,3.00 L284.00,3.00 L284.00,214.70" fill="none" stroke="#3c3c3c" stroke-width="1.7" stroke-linecap="square"/>
<line x1="20.20" y1="214.70" x2="284.80" y2="214.70" stroke="#5a5a76" stroke-width="1.8"/>
<line x1="21.00" y1="214.70" x2="21.00" y2="217.10" stroke="#2e2e3a" stroke-width="1.2"/>
<line x1="38.53" y1="214.70" x2="38.53" y2="218.70" stroke="#2e2e3a" stroke-width="1.3"/>
<text transform="translate(38.53,231.70) scale(0.93,1)" class="tk">294</text>
<line x1="56.07" y1="214.70" x2="56.07" y2="217.10" stroke="#2e2e3a" stroke-width="1.2"/>
<line x1="73.60" y1="214.70" x2="73.60" y2="218.70" stroke="#2e2e3a" stroke-width="1.3"/>
<text transform="translate(73.60,231.70) scale(0.93,1)" class="tk">292</text>
<line x1="91.13" y1="214.70" x2="91.13" y2="217.10" stroke="#2e2e3a" stroke-width="1.2"/>
<line x1="108.67" y1="214.70" x2="108.67" y2="218.70" stroke="#2e2e3a" stroke-width="1.3"/>
<text transform="translate(108.67,231.70) scale(0.93,1)" class="tk">290</text>
<line x1="126.20" y1="214.70" x2="126.20" y2="217.10" stroke="#2e2e3a" stroke-width="1.2"/>
<line x1="143.73" y1="214.70" x2="143.73" y2="218.70" stroke="#2e2e3a" stroke-width="1.3"/>
<text transform="translate(143.73,231.70) scale(0.93,1)" class="tk">288</text>
<line x1="161.27" y1="214.70" x2="161.27" y2="217.10" stroke="#2e2e3a" stroke-width="1.2"/>
<line x1="178.80" y1="214.70" x2="178.80" y2="218.70" stroke="#2e2e3a" stroke-width="1.3"/>
<text transform="translate(178.80,231.70) scale(0.93,1)" class="tk">286</text>
<line x1="196.33" y1="214.70" x2="196.33" y2="217.10" stroke="#2e2e3a" stroke-width="1.2"/>
<line x1="213.87" y1="214.70" x2="213.87" y2="218.70" stroke="#2e2e3a" stroke-width="1.3"/>
<text transform="translate(213.87,231.70) scale(0.93,1)" class="tk">284</text>
<line x1="231.40" y1="214.70" x2="231.40" y2="217.10" stroke="#2e2e3a" stroke-width="1.2"/>
<line x1="248.93" y1="214.70" x2="248.93" y2="218.70" stroke="#2e2e3a" stroke-width="1.3"/>
<text transform="translate(248.93,231.70) scale(0.93,1)" class="tk">282</text>
<line x1="266.47" y1="214.70" x2="266.47" y2="217.10" stroke="#2e2e3a" stroke-width="1.2"/>
<line x1="284.00" y1="214.70" x2="284.00" y2="218.70" stroke="#2e2e3a" stroke-width="1.3"/>
<text transform="translate(284.00,231.70) scale(0.93,1)" class="tk">280</text>
<circle cx="23.00" cy="11.50" r="0.85" fill="#222"/>
<circle cx="29.00" cy="11.50" r="0.85" fill="#222"/>
<circle cx="35.00" cy="11.50" r="0.85" fill="#222"/>
<circle cx="41.00" cy="11.50" r="0.85" fill="#222"/>
<circle cx="47.00" cy="11.50" r="0.85" fill="#222"/>
<text x="50.50" y="16.40" class="cjk">实验</text>
<line x1="23.00" y1="28.50" x2="47.00" y2="28.50" stroke="#d12d4e" stroke-width="1.8"/>
<text x="49.00" y="31.80" class="lg">C-C sp<tspan dy="-4.3">2</tspan></text>
<line x1="23.00" y1="45.50" x2="47.00" y2="45.50" stroke="#7ddc5a" stroke-width="1.8"/>
<text x="49.00" y="48.80" class="lg">C-C sp<tspan dy="-4.3">3</tspan></text>
<line x1="23.00" y1="58.80" x2="47.00" y2="58.80" stroke="#3a4894" stroke-width="1.8"/>
<text x="49.00" y="62.10" class="lg">C-O</text>
<line x1="23.00" y1="73.00" x2="47.00" y2="73.00" stroke="#88e6b6" stroke-width="1.8"/>
<text x="49.00" y="76.30" class="lg">C=O</text>
<line x1="23.00" y1="86.60" x2="47.00" y2="86.60" stroke="#a44ee0" stroke-width="1.8"/>
<text x="49.00" y="90.00" class="cjk">背景</text>
<line x1="23.00" y1="100.60" x2="47.00" y2="100.60" stroke="#3e1428" stroke-width="1.8"/>
<text x="49.00" y="103.80" class="cjk">适应性</text>
<text x="237.50" y="34.50" class="big">(a)</text>
<text transform="translate(10.30,103.00) rotate(-90)" class="cps">CPS</text>
<text x="135.00" y="250.30" class="cjkx">结合能</text>
<text transform="translate(184.20,250.30) scale(0.9,1)" class="evx">(eV)</text>
<path d="M352.50,193.30 L353.00,193.30 L353.50,193.31 L354.00,193.32 L354.50,193.33 L355.00,193.34 L355.50,193.35 L356.00,193.36 L356.50,193.38 L357.00,193.39 L357.50,193.41 L358.00,193.42 L358.50,193.44 L359.00,193.46 L359.50,193.48 L360.00,193.50 L360.50,193.52 L361.00,193.54 L361.50,193.56 L362.00,193.58 L362.50,193.60 L363.00,193.62 L363.50,193.65 L364.00,193.68 L364.50,193.71 L365.00,193.74 L365.50,193.78 L366.00,193.82 L366.50,193.85 L367.00,193.90 L367.50,193.94 L368.00,193.98 L368.50,194.03 L369.00,194.07 L369.50,194.12 L370.00,194.16 L370.50,194.21 L371.00,194.25 L371.50,194.30 L372.00,194.35 L372.50,194.39 L373.00,194.44 L373.50,194.48 L374.00,194.52 L374.50,194.56 L375.00,194.60 L375.50,194.64 L376.00,194.68 L376.50,194.71 L377.00,194.75 L377.50,194.79 L378.00,194.82 L378.50,194.86 L379.00,194.90 L379.50,194.93 L380.00,194.97 L380.50,195.01 L381.00,195.04 L381.50,195.08 L382.00,195.11 L382.50,195.15 L383.00,195.19 L383.50,195.22 L384.00,195.26 L384.50,195.29 L385.00,195.33 L385.50,195.36 L386.00,195.40 L386.50,195.43 L387.00,195.47 L387.50,195.50 L388.00,195.54 L388.50,195.57 L389.00,195.61 L389.50,195.64 L390.00,195.68 L390.50,195.71 L391.00,195.75 L391.50,195.78 L392.00,195.82 L392.50,195.85 L393.00,195.89 L393.50,195.93 L394.00,195.96 L394.50,196.00 L395.00,196.03 L395.50,196.07 L396.00,196.10 L396.50,196.14 L397.00,196.18 L397.50,196.21 L398.00,196.25 L398.50,196.29 L399.00,196.33 L399.50,196.36 L400.00,196.40 L400.50,196.44 L401.00,196.48 L401.50,196.51 L402.00,196.55 L402.50,196.59 L403.00,196.63 L403.50,196.67 L404.00,196.71 L404.50,196.74 L405.00,196.78 L405.50,196.82 L406.00,196.86 L406.50,196.90 L407.00,196.94 L407.50,196.98 L408.00,197.02 L408.50,197.06 L409.00,197.10 L409.50,197.14 L410.00,197.18 L410.50,197.22 L411.00,197.26 L411.50,197.30 L412.00,197.34 L412.50,197.38 L413.00,197.42 L413.50,197.46 L414.00,197.50 L414.50,197.54 L415.00,197.58 L415.50,197.62 L416.00,197.66 L416.50,197.70 L417.00,197.74 L417.50,197.78 L418.00,197.82 L418.50,197.86 L419.00,197.91 L419.50,197.95 L420.00,197.99 L420.50,198.03 L421.00,198.07 L421.50,198.11 L422.00,198.15 L422.50,198.19 L423.00,198.23 L423.50,198.27 L424.00,198.31 L424.50,198.36 L425.00,198.40 L425.50,198.44 L426.00,198.48 L426.50,198.52 L427.00,198.56 L427.50,198.60 L428.00,198.64 L428.50,198.68 L429.00,198.72 L429.50,198.76 L430.00,198.81 L430.50,198.85 L431.00,198.89 L431.50,198.93 L432.00,198.97 L432.50,199.01 L433.00,199.05 L433.50,199.09 L434.00,199.13 L434.50,199.17 L435.00,199.21 L435.50,199.25 L436.00,199.29 L436.50,199.33 L437.00,199.37 L437.50,199.41 L438.00,199.45 L438.50,199.49 L439.00,199.53 L439.50,199.57 L440.00,199.61 L440.50,199.65 L441.00,199.69 L441.50,199.73 L442.00,199.77 L442.50,199.81 L443.00,199.85 L443.50,199.88 L444.00,199.92 L444.50,199.96 L445.00,200.00 L445.50,200.04 L446.00,200.08 L446.50,200.12 L447.00,200.16 L447.50,200.19 L448.00,200.23 L448.50,200.27 L449.00,200.31 L449.50,200.35 L450.00,200.39 L450.50,200.43 L451.00,200.47 L451.50,200.51 L452.00,200.55 L452.50,200.59 L453.00,200.63 L453.50,200.68 L454.00,200.72 L454.50,200.76 L455.00,200.80 L455.50,200.84 L456.00,200.88 L456.50,200.92 L457.00,200.96 L457.50,201.00 L458.00,201.04 L458.50,201.08 L459.00,201.12 L459.50,201.16 L460.00,201.20 L460.50,201.24 L461.00,201.28 L461.50,201.32 L462.00,201.36 L462.50,201.40 L463.00,201.44 L463.50,201.48 L464.00,201.52 L464.50,201.55 L465.00,201.59 L465.50,201.63 L466.00,201.67 L466.50,201.71 L467.00,201.74 L467.50,201.78 L468.00,201.82 L468.50,201.86 L469.00,201.89 L469.50,201.93 L470.00,201.96 L470.50,202.00 L471.00,202.03 L471.50,202.07 L472.00,202.10 L472.50,202.14 L473.00,202.17 L473.50,202.21 L474.00,202.24 L474.50,202.27 L475.00,202.30 L475.50,202.34 L476.00,202.37 L476.50,202.40 L477.00,202.43 L477.50,202.46 L478.00,202.49 L478.50,202.52 L479.00,202.54 L479.50,202.57 L480.00,202.60 L480.50,202.63 L481.00,202.65 L481.50,202.68 L482.00,202.71 L482.50,202.73 L483.00,202.76 L483.50,202.79 L484.00,202.81 L484.50,202.84 L485.00,202.86 L485.50,202.89 L486.00,202.91 L486.50,202.94 L487.00,202.96 L487.50,202.98 L488.00,203.01 L488.50,203.03 L489.00,203.06 L489.50,203.08 L490.00,203.10 L490.50,203.13 L491.00,203.15 L491.50,203.17 L492.00,203.20 L492.50,203.22 L493.00,203.24 L493.50,203.26 L494.00,203.29 L494.50,203.31 L495.00,203.33 L495.50,203.35 L496.00,203.37 L496.50,203.39 L497.00,203.42 L497.50,203.44 L498.00,203.46 L498.50,203.48 L499.00,203.50 L499.50,203.52 L500.00,203.54 L500.50,203.56 L501.00,203.58 L501.50,203.60 L502.00,203.62 L502.50,203.64 L503.00,203.66 L503.50,203.68 L504.00,203.70 L504.50,203.72 L505.00,203.74 L505.50,203.76 L506.00,203.78 L506.50,203.80 L507.00,203.82 L507.50,203.84 L508.00,203.86 L508.50,203.88 L509.00,203.90 L509.50,203.91 L510.00,203.93 L510.50,203.95 L511.00,203.97 L511.50,203.99 L512.00,204.01 L512.50,204.03 L513.00,204.04 L513.50,204.06 L514.00,204.08 L514.50,204.10 L515.00,204.12 L515.50,204.14 L516.00,204.15 L516.50,204.17 L517.00,204.19 L517.50,204.21 L518.00,204.23 L518.50,204.25 L519.00,204.26 L519.50,204.28 L520.00,204.30 L520.50,204.32 L521.00,204.34 L521.50,204.36 L522.00,204.37 L522.50,204.39 L523.00,204.41 L523.50,204.43 L524.00,204.45 L524.50,204.47 L525.00,204.49 L525.50,204.51 L526.00,204.53 L526.50,204.55 L527.00,204.57 L527.50,204.59 L528.00,204.61 L528.50,204.63 L529.00,204.65 L529.50,204.67 L530.00,204.69 L530.50,204.71 L531.00,204.72 L531.50,204.74 L532.00,204.76 L532.50,204.78 L533.00,204.80 L533.50,204.82 L534.00,204.83 L534.50,204.85 L535.00,204.87 L535.50,204.88 L536.00,204.90 L536.50,204.92 L537.00,204.93 L537.50,204.95 L538.00,204.96 L538.50,204.97 L539.00,204.99 L539.50,205.00 L540.00,205.01 L540.50,205.02 L541.00,205.03 L541.50,205.05 L542.00,205.06 L542.50,205.06 L543.00,205.07 L543.50,205.08 L544.00,205.09 L544.50,205.09 L545.00,205.10 L545.50,205.11 L546.00,205.11 L546.50,205.11 L547.00,205.12 L547.50,205.12 L548.00,205.13 L548.50,205.13 L549.00,205.13 L549.50,205.14 L550.00,205.14 L550.50,205.14 L551.00,205.14 L551.50,205.15 L552.00,205.15 L552.50,205.15 L553.00,205.15 L553.50,205.16 L554.00,205.16 L554.50,205.16 L555.00,205.16 L555.50,205.17 L556.00,205.17 L556.50,205.17 L557.00,205.18 L557.50,205.18 L558.00,205.18 L558.50,205.19 L559.00,205.19 L559.50,205.20 L560.00,205.20 L560.50,205.21 L561.00,205.21 L561.50,205.22 L562.00,205.23 L562.50,205.23 L563.00,205.24 L563.50,205.25 L564.00,205.26 L564.50,205.27 L565.00,205.28 L565.50,205.29 L566.00,205.30" fill="none" stroke="#a44ee0" stroke-width="1.60" stroke-linejoin="round" stroke-linecap="round"/>
<path d="M359.20,192.10 L359.70,192.01 L360.20,191.90 L360.70,191.79 L361.20,191.66 L361.70,191.53 L362.20,191.39 L362.70,191.24 L363.20,191.08 L363.70,190.91 L364.20,190.72 L364.70,190.52 L365.20,190.31 L365.70,190.09 L366.20,189.85 L366.70,189.60 L367.20,189.33 L367.70,189.04 L368.20,188.73 L368.70,188.40 L369.20,188.03 L369.70,187.65 L370.20,187.23 L370.70,186.79 L371.20,186.30 L371.70,185.74 L372.20,185.12 L372.70,184.45 L373.20,183.74 L373.70,183.00 L374.20,182.24 L374.70,181.46 L375.20,180.68 L375.70,179.90 L376.20,179.10 L376.70,178.27 L377.20,177.38 L377.70,176.43 L378.20,175.39 L378.70,174.25 L379.20,172.96 L379.71,171.51 L380.21,169.92 L380.71,168.22 L381.21,166.41 L381.71,164.52 L382.21,162.57 L382.71,160.58 L383.21,158.50 L383.71,156.26 L384.21,153.87 L384.71,151.37 L385.21,148.80 L385.71,146.17 L386.21,143.52 L386.71,140.88 L387.21,138.29 L387.71,135.75 L388.21,133.11 L388.71,130.39 L389.21,127.64 L389.71,124.89 L390.21,122.20 L390.71,119.62 L391.21,117.20 L391.71,114.97 L392.21,112.99 L392.71,111.09 L393.21,109.25 L393.71,107.52 L394.21,105.97 L394.71,104.65 L395.21,103.65 L395.71,102.87 L396.21,102.15 L396.71,101.50 L397.21,101.00 L397.71,100.68 L398.21,100.61 L398.71,100.76 L399.21,101.11 L399.71,101.60 L400.21,102.20 L400.71,102.87 L401.21,103.76 L401.71,105.11 L402.21,106.82 L402.71,108.79 L403.21,110.89 L403.71,113.03 L404.21,115.24 L404.71,117.78 L405.21,120.56 L405.71,123.49 L406.21,126.48 L406.71,129.44 L407.21,132.29 L407.71,134.94 L408.21,137.30 L408.71,139.46 L409.21,141.48 L409.71,143.42 L410.21,145.29 L410.71,147.13 L411.21,148.99 L411.71,150.88 L412.21,152.85 L412.71,154.87 L413.21,156.93 L413.71,159.01 L414.21,161.09 L414.71,163.14 L415.21,165.16 L415.71,167.11 L416.21,168.98 L416.71,170.76 L417.21,172.53 L417.71,174.30 L418.21,176.02 L418.71,177.66 L419.21,179.19 L419.71,180.59 L420.21,181.81 L420.72,182.89 L421.22,183.93 L421.72,184.92 L422.22,185.87 L422.72,186.78 L423.22,187.64 L423.72,188.45 L424.22,189.21 L424.72,189.92 L425.22,190.58 L425.72,191.18 L426.22,191.73 L426.72,192.22 L427.22,192.67 L427.72,193.11 L428.22,193.53 L428.72,193.93 L429.22,194.32 L429.72,194.69 L430.22,195.04 L430.72,195.37 L431.22,195.69 L431.72,195.98 L432.22,196.25 L432.72,196.51 L433.22,196.74 L433.72,196.95 L434.22,197.14 L434.72,197.31 L435.22,197.46 L435.72,197.61 L436.22,197.75 L436.72,197.88 L437.22,198.01 L437.72,198.14 L438.22,198.26 L438.72,198.37 L439.22,198.47 L439.72,198.57 L440.22,198.67 L440.72,198.76 L441.22,198.84 L441.72,198.92 L442.22,198.99 L442.72,199.06 L443.22,199.12 L443.72,199.17 L444.22,199.22 L444.72,199.27 L445.22,199.32 L445.72,199.36 L446.22,199.41 L446.72,199.45 L447.22,199.49 L447.72,199.53 L448.22,199.56 L448.72,199.60 L449.22,199.63 L449.72,199.66 L450.22,199.69 L450.72,199.71 L451.22,199.74 L451.72,199.76 L452.22,199.77 L452.72,199.79 L453.22,199.80 L453.72,199.81 L454.22,199.82 L454.72,199.82 L455.22,199.83 L455.72,199.84 L456.22,199.85 L456.72,199.86 L457.22,199.86 L457.72,199.87 L458.22,199.87 L458.72,199.88 L459.22,199.88 L459.72,199.89 L460.22,199.89 L460.72,199.89 L461.22,199.90 L461.73,199.90 L462.23,199.90 L462.73,199.90 L463.23,199.89 L463.73,199.85 L464.23,199.79 L464.73,199.72 L465.23,199.63 L465.73,199.53 L466.23,199.42 L466.73,199.30 L467.23,199.19 L467.73,199.07 L468.23,198.94 L468.73,198.81 L469.23,198.65 L469.73,198.47 L470.23,198.28 L470.73,198.08 L471.23,197.87 L471.73,197.65 L472.23,197.42 L472.73,197.19 L473.23,196.95 L473.73,196.69 L474.23,196.42 L474.73,196.14 L475.23,195.83 L475.73,195.52 L476.23,195.19 L476.73,194.84 L477.23,194.47 L477.73,194.09 L478.23,193.68 L478.73,193.25 L479.23,192.79 L479.73,192.30 L480.23,191.79 L480.73,191.24 L481.23,190.64 L481.73,189.98 L482.23,189.28 L482.73,188.53 L483.23,187.75 L483.73,186.94 L484.23,186.11 L484.73,185.23 L485.23,184.31 L485.73,183.34 L486.23,182.34 L486.73,181.29 L487.23,180.22 L487.73,179.11 L488.23,177.97 L488.73,176.84 L489.23,175.68 L489.73,174.48 L490.23,173.21 L490.73,171.85 L491.23,170.36 L491.73,168.73 L492.23,166.89 L492.73,164.77 L493.23,162.42 L493.73,159.86 L494.23,157.14 L494.73,154.30 L495.23,151.37 L495.73,148.39 L496.23,145.40 L496.73,142.36 L497.23,139.17 L497.73,135.86 L498.23,132.44 L498.73,128.93 L499.23,125.34 L499.73,121.69 L500.23,117.99 L500.73,114.28 L501.23,110.52 L501.73,106.54 L502.23,102.38 L502.74,98.15 L503.24,93.95 L503.74,89.86 L504.24,85.99 L504.74,82.43 L505.24,79.04 L505.74,75.62 L506.24,72.40 L506.74,69.62 L507.24,67.50 L507.74,66.08 L508.24,64.79 L508.74,63.70 L509.24,62.93 L509.74,62.60 L510.24,62.75 L510.74,63.26 L511.24,64.05 L511.74,65.04 L512.24,66.15 L512.74,67.35 L513.24,69.00 L513.74,71.16 L514.24,73.67 L514.74,76.40 L515.24,79.21 L515.74,81.96 L516.24,84.82 L516.74,87.88 L517.24,91.07 L517.74,94.38 L518.24,97.75 L518.74,101.17 L519.24,104.58 L519.74,107.96 L520.24,111.26 L520.74,114.50 L521.24,117.78 L521.74,121.09 L522.24,124.42 L522.74,127.73 L523.24,131.02 L523.74,134.25 L524.24,137.42 L524.74,140.49 L525.24,143.45 L525.74,146.28 L526.24,148.96 L526.74,151.52 L527.24,154.01 L527.74,156.46 L528.24,158.91 L528.74,161.40 L529.24,163.98 L529.74,166.62 L530.24,169.22 L530.74,171.72 L531.24,174.04 L531.74,176.30 L532.24,178.51 L532.74,180.61 L533.24,182.56 L533.74,184.30 L534.24,185.81 L534.74,187.21 L535.24,188.53 L535.74,189.77 L536.24,190.92 L536.74,191.99 L537.24,192.96 L537.74,193.83 L538.24,194.62 L538.74,195.35 L539.24,196.05 L539.74,196.72 L540.24,197.35 L540.74,197.94 L541.24,198.49 L541.74,198.99 L542.24,199.44 L542.74,199.85 L543.24,200.20 L543.75,200.51 L544.25,200.80 L544.75,201.07 L545.25,201.33 L545.75,201.57 L546.25,201.80 L546.75,202.01 L547.25,202.21 L547.75,202.40 L548.25,202.57 L548.75,202.74 L549.25,202.89 L549.75,203.03 L550.25,203.16 L550.75,203.28 L551.25,203.40 L551.75,203.51 L552.25,203.61 L552.75,203.70 L553.25,203.79 L553.75,203.88 L554.25,203.96 L554.75,204.03 L555.25,204.10 L555.75,204.17 L556.25,204.23 L556.75,204.29 L557.25,204.34 L557.75,204.39 L558.25,204.44 L558.75,204.49 L559.25,204.53 L559.75,204.58 L560.25,204.62 L560.75,204.67 L561.25,204.71 L561.75,204.75 L562.25,204.79 L562.75,204.83 L563.25,204.86 L563.75,204.90" fill="none" stroke="#3e1428" stroke-width="1.75" stroke-linejoin="round" stroke-linecap="round"/>
<polyline points="326.00,196.60 327.00,197.93 328.00,198.28 329.00,197.79 330.00,196.20 331.00,196.67 332.00,197.25 333.00,197.68 334.00,197.24 335.00,197.82 336.00,197.76 337.00,197.27 338.00,196.81 339.00,196.00 340.00,196.81 341.00,197.27 342.00,195.53 343.00,195.38 344.00,194.95 345.00,194.16 346.00,195.59 347.00,195.75 348.00,195.63 349.00,195.74 350.00,195.71 351.00,194.74 352.00,194.08 353.00,193.98 354.00,192.97 355.00,192.99 356.00,193.28 357.00,192.80 358.00,192.38 359.00,192.92" fill="none" stroke="#a44ee0" stroke-width="1.30" stroke-linejoin="round"/>
<polyline points="326.00,195.80 327.00,197.13 328.00,197.48 329.00,196.99 330.00,195.40 331.00,195.87 332.00,196.45 333.00,196.88 334.00,196.44 335.00,197.02 336.00,196.96 337.00,196.47 338.00,196.01 339.00,195.20 340.00,196.01 341.00,196.47 342.00,194.73 343.00,194.58 344.00,194.15 345.00,193.36 346.00,194.79 347.00,194.95 348.00,194.83 349.00,194.94 350.00,194.91 351.00,193.94 352.00,193.28 353.00,193.18 354.00,192.17 355.00,192.19 356.00,192.48 357.00,192.00 358.00,191.58 359.00,192.12" fill="none" stroke="#3e1428" stroke-width="1.70" stroke-linejoin="round"/>
<polyline points="563.75,205.70 564.75,205.66 565.75,205.92 566.75,205.93 567.75,205.66 568.75,205.02 569.75,204.69 570.75,205.05 571.75,204.63 572.75,204.55 573.75,205.81 574.75,206.19 575.75,206.93 576.75,207.16 577.75,207.44 578.75,207.89 579.75,207.68 580.75,206.29 581.75,205.90 582.75,206.39 583.75,207.06 584.75,206.34 585.75,206.87 586.75,205.93 587.75,207.55" fill="none" stroke="#a44ee0" stroke-width="1.30" stroke-linejoin="round"/>
<polyline points="563.75,204.90 564.75,204.86 565.75,205.12 566.75,205.13 567.75,204.86 568.75,204.22 569.75,203.89 570.75,204.25 571.75,203.83 572.75,203.75 573.75,205.01 574.75,205.39 575.75,206.13 576.75,206.36 577.75,206.64 578.75,207.09 579.75,206.88 580.75,205.49 581.75,205.10 582.75,205.59 583.75,206.26 584.75,205.54 585.75,206.07 586.75,205.13 587.75,206.75" fill="none" stroke="#3e1428" stroke-width="1.70" stroke-linejoin="round"/>
<circle cx="362.00" cy="191.59" r="0.95" fill="#1a1a1a"/>
<circle cx="366.00" cy="190.24" r="0.95" fill="#1a1a1a"/>
<circle cx="370.00" cy="187.76" r="0.95" fill="#1a1a1a"/>
<circle cx="374.00" cy="183.08" r="0.95" fill="#1a1a1a"/>
<circle cx="378.00" cy="176.12" r="0.95" fill="#1a1a1a"/>
<circle cx="382.00" cy="163.89" r="0.95" fill="#1a1a1a"/>
<circle cx="386.00" cy="144.05" r="0.95" fill="#1a1a1a"/>
<circle cx="390.00" cy="123.27" r="0.95" fill="#1a1a1a"/>
<circle cx="394.00" cy="107.12" r="0.95" fill="#1a1a1a"/>
<circle cx="398.00" cy="100.78" r="0.95" fill="#1a1a1a"/>
<circle cx="410.20" cy="144.50" r="0.95" fill="#1a1a1a"/>
<circle cx="412.20" cy="152.00" r="0.95" fill="#1a1a1a"/>
<circle cx="414.20" cy="160.21" r="0.95" fill="#1a1a1a"/>
<circle cx="416.20" cy="168.19" r="0.95" fill="#1a1a1a"/>
<circle cx="482.00" cy="190.09" r="0.95" fill="#1a1a1a"/>
<circle cx="486.00" cy="182.34" r="0.95" fill="#1a1a1a"/>
<circle cx="490.00" cy="173.78" r="0.95" fill="#1a1a1a"/>
<circle cx="494.00" cy="158.12" r="0.95" fill="#1a1a1a"/>
<circle cx="498.00" cy="134.11" r="0.95" fill="#1a1a1a"/>
<circle cx="502.00" cy="104.44" r="0.95" fill="#1a1a1a"/>
<circle cx="506.00" cy="73.30" r="0.95" fill="#1a1a1a"/>
<circle cx="510.00" cy="62.29" r="0.95" fill="#1a1a1a"/>
<circle cx="515.20" cy="72.44" r="0.95" fill="#1a1a1a"/>
<circle cx="517.20" cy="83.43" r="0.95" fill="#1a1a1a"/>
<circle cx="519.20" cy="96.13" r="0.95" fill="#1a1a1a"/>
<circle cx="521.20" cy="109.69" r="0.95" fill="#1a1a1a"/>
<circle cx="523.20" cy="122.82" r="0.95" fill="#1a1a1a"/>
<circle cx="525.20" cy="135.91" r="0.95" fill="#1a1a1a"/>
<circle cx="419.30" cy="177.30" r="0.95" fill="#1a1a1a"/>
<circle cx="423.70" cy="185.00" r="0.95" fill="#1a1a1a"/>
<circle cx="428.30" cy="188.70" r="0.95" fill="#1a1a1a"/>
<circle cx="431.30" cy="190.70" r="0.95" fill="#1a1a1a"/>
<circle cx="435.00" cy="193.70" r="0.95" fill="#1a1a1a"/>
<circle cx="438.70" cy="194.70" r="0.95" fill="#1a1a1a"/>
<circle cx="442.70" cy="196.00" r="0.95" fill="#1a1a1a"/>
<circle cx="446.70" cy="198.70" r="0.95" fill="#1a1a1a"/>
<circle cx="451.30" cy="199.30" r="0.95" fill="#1a1a1a"/>
<circle cx="455.30" cy="197.30" r="0.95" fill="#1a1a1a"/>
<circle cx="460.70" cy="197.30" r="0.95" fill="#1a1a1a"/>
<circle cx="465.30" cy="196.70" r="0.95" fill="#1a1a1a"/>
<circle cx="469.30" cy="194.70" r="0.95" fill="#1a1a1a"/>
<circle cx="473.00" cy="195.30" r="0.95" fill="#1a1a1a"/>
<circle cx="478.00" cy="193.30" r="0.95" fill="#1a1a1a"/>
<circle cx="527.40" cy="158.20" r="0.95" fill="#1a1a1a"/>
<circle cx="529.80" cy="166.50" r="0.95" fill="#1a1a1a"/>
<circle cx="531.70" cy="175.10" r="0.95" fill="#1a1a1a"/>
<circle cx="534.60" cy="181.00" r="0.95" fill="#1a1a1a"/>
<circle cx="537.50" cy="186.30" r="0.95" fill="#1a1a1a"/>
<circle cx="540.50" cy="190.40" r="0.95" fill="#1a1a1a"/>
<circle cx="544.00" cy="193.90" r="0.95" fill="#1a1a1a"/>
<circle cx="547.50" cy="194.40" r="0.95" fill="#1a1a1a"/>
<circle cx="551.00" cy="198.50" r="0.95" fill="#1a1a1a"/>
<circle cx="555.70" cy="201.50" r="0.95" fill="#1a1a1a"/>
<circle cx="559.20" cy="202.60" r="0.95" fill="#1a1a1a"/>
<rect x="325.50" y="3.00" width="109.10" height="76.00" fill="#fff" stroke="#6f8482" stroke-width="1.4"/>
<path d="M325.50,214.40 L325.50,3.00 L588.00,3.00 L588.00,214.40" fill="none" stroke="#3c3c3c" stroke-width="1.7" stroke-linecap="square"/>
<line x1="324.70" y1="214.40" x2="588.80" y2="214.40" stroke="#343434" stroke-width="1.8"/>
<line x1="325.50" y1="214.40" x2="325.50" y2="218.40" stroke="#2e2e3a" stroke-width="1.3"/>
<text transform="translate(325.50,231.40) scale(0.93,1)" class="tk">378</text>
<line x1="344.25" y1="214.40" x2="344.25" y2="216.80" stroke="#2e2e3a" stroke-width="1.2"/>
<line x1="363.00" y1="214.40" x2="363.00" y2="218.40" stroke="#2e2e3a" stroke-width="1.3"/>
<text transform="translate(363.00,231.40) scale(0.93,1)" class="tk">376</text>
<line x1="381.75" y1="214.40" x2="381.75" y2="216.80" stroke="#2e2e3a" stroke-width="1.2"/>
<line x1="400.50" y1="214.40" x2="400.50" y2="218.40" stroke="#2e2e3a" stroke-width="1.3"/>
<text transform="translate(400.50,231.40) scale(0.93,1)" class="tk">374</text>
<line x1="419.25" y1="214.40" x2="419.25" y2="216.80" stroke="#2e2e3a" stroke-width="1.2"/>
<line x1="438.00" y1="214.40" x2="438.00" y2="218.40" stroke="#2e2e3a" stroke-width="1.3"/>
<text transform="translate(438.00,231.40) scale(0.93,1)" class="tk">372</text>
<line x1="456.75" y1="214.40" x2="456.75" y2="216.80" stroke="#2e2e3a" stroke-width="1.2"/>
<line x1="475.50" y1="214.40" x2="475.50" y2="218.40" stroke="#2e2e3a" stroke-width="1.3"/>
<text transform="translate(475.50,231.40) scale(0.93,1)" class="tk">370</text>
<line x1="494.25" y1="214.40" x2="494.25" y2="216.80" stroke="#2e2e3a" stroke-width="1.2"/>
<line x1="513.00" y1="214.40" x2="513.00" y2="218.40" stroke="#2e2e3a" stroke-width="1.3"/>
<text transform="translate(513.00,231.40) scale(0.93,1)" class="tk">368</text>
<line x1="531.75" y1="214.40" x2="531.75" y2="216.80" stroke="#2e2e3a" stroke-width="1.2"/>
<line x1="550.50" y1="214.40" x2="550.50" y2="218.40" stroke="#2e2e3a" stroke-width="1.3"/>
<text transform="translate(550.50,231.40) scale(0.93,1)" class="tk">366</text>
<line x1="569.25" y1="214.40" x2="569.25" y2="216.80" stroke="#2e2e3a" stroke-width="1.2"/>
<line x1="588.00" y1="214.40" x2="588.00" y2="218.40" stroke="#2e2e3a" stroke-width="1.3"/>
<text transform="translate(588.00,231.40) scale(0.93,1)" class="tk">364</text>
<circle cx="327.00" cy="10.40" r="0.85" fill="#222"/>
<circle cx="333.00" cy="10.40" r="0.85" fill="#222"/>
<circle cx="339.00" cy="10.40" r="0.85" fill="#222"/>
<circle cx="345.00" cy="10.40" r="0.85" fill="#222"/>
<circle cx="351.00" cy="10.40" r="0.85" fill="#222"/>
<text x="355.00" y="14.70" class="cjk">实验</text>
<line x1="327.00" y1="24.50" x2="352.00" y2="24.50" stroke="#d12d4e" stroke-width="1.8"/>
<text x="353.00" y="28.20" class="lg">Ag 3d<tspan dy="3.3">5/2</tspan></text>
<line x1="327.00" y1="41.80" x2="352.00" y2="41.80" stroke="#7ddc5a" stroke-width="1.8"/>
<text x="353.00" y="45.50" class="lg">Ag 3d<tspan dy="3.3">3/2</tspan></text>
<line x1="327.00" y1="58.00" x2="352.00" y2="58.00" stroke="#a44ee0" stroke-width="1.8"/>
<text x="355.00" y="61.40" class="cjk">背景</text>
<line x1="327.00" y1="71.60" x2="352.00" y2="71.60" stroke="#3e1428" stroke-width="1.8"/>
<text x="355.00" y="74.90" class="cjk">适应性</text>
<text x="395" y="94.6" class="pk">3d<tspan class="pks" dy="2.6">3/2</tspan></text>
<text x="505" y="57.8" class="pk">3d<tspan class="pks" dy="3.5">5/2</tspan></text>
<text x="538.20" y="32.50" class="big">(b)</text>
<text transform="translate(314.00,102.70) rotate(-90)" class="cps">CPS</text>
<text x="442.50" y="250.30" class="cjkx">结合能</text>
<text transform="translate(488.00,250.30) scale(0.9,1)" class="evx">(eV)</text>
<path d="M135.50,449.30 L136.00,449.29 L136.50,449.26 L137.00,449.22 L137.50,449.17 L138.00,449.11 L138.50,449.04 L139.00,448.97 L139.50,448.87 L140.00,448.74 L140.50,448.59 L141.00,448.41 L141.50,448.21 L142.00,447.99 L142.50,447.76 L143.00,447.52 L143.50,447.27 L144.00,447.01 L144.50,446.76 L145.00,446.50 L145.50,446.24 L146.00,445.97 L146.50,445.68 L147.00,445.38 L147.50,445.06 L148.00,444.73 L148.50,444.38 L149.00,444.01 L149.50,443.63 L150.00,443.22 L150.50,442.80 L151.00,442.35 L151.50,441.86 L152.00,441.33 L152.50,440.77 L153.00,440.18 L153.50,439.55 L154.00,438.90 L154.50,438.21 L155.00,437.50 L155.50,436.74 L156.00,435.93 L156.50,435.05 L157.00,434.13 L157.50,433.16 L158.00,432.16 L158.50,431.11 L159.00,430.04 L159.50,428.93 L160.00,427.77 L160.50,426.56 L161.00,425.30 L161.50,424.00 L162.00,422.65 L162.50,421.27 L163.00,419.85 L163.50,418.41 L164.00,416.93 L164.50,415.43 L165.00,413.91 L165.50,412.32 L166.00,410.61 L166.50,408.78 L167.00,406.89 L167.50,404.95 L168.00,403.00 L168.50,401.08 L169.00,399.20 L169.50,397.41 L170.00,395.73 L170.50,394.20 L171.00,392.84 L171.50,391.54 L172.00,390.28 L172.50,389.09 L173.00,388.03 L173.50,387.16 L174.00,386.50 L174.50,385.97 L175.00,385.49 L175.50,385.12 L176.00,384.92 L176.50,384.93 L177.00,385.07 L177.50,385.32 L178.00,385.64 L178.50,386.00 L179.00,386.55 L179.50,387.40 L180.00,388.50 L180.50,389.79 L181.00,391.22 L181.50,392.72 L182.00,394.24 L182.50,395.71 L183.00,397.17 L183.50,398.71 L184.00,400.34 L184.50,402.03 L185.00,403.78 L185.50,405.58 L186.00,407.40 L186.50,409.24 L187.00,411.08 L187.50,412.92 L188.00,414.73 L188.50,416.50 L189.00,418.27 L189.50,420.07 L190.00,421.90 L190.50,423.73 L191.00,425.56 L191.50,427.39 L192.00,429.20 L192.50,430.98 L193.00,432.72 L193.50,434.41 L194.00,436.05 L194.50,437.62 L195.00,439.17 L195.50,440.70 L196.00,442.18 L196.50,443.62 L197.00,444.99 L197.50,446.29 L198.00,447.50 L198.50,448.67 L199.00,449.83 L199.50,450.98 L200.00,452.10 L200.50,453.17 L201.00,454.18 L201.50,455.11 L202.00,455.95 L202.50,456.68 L203.00,457.29 L203.50,457.80 L204.00,458.28 L204.50,458.71 L205.00,459.12 L205.50,459.50 L206.00,459.86 L206.50,460.19 L207.00,460.49 L207.50,460.78 L208.00,461.05 L208.50,461.31 L209.00,461.56 L209.50,461.79 L210.00,462.02 L210.50,462.25 L211.00,462.47 L211.50,462.69 L212.00,462.90 L212.50,463.10 L213.00,463.29 L213.50,463.48 L214.00,463.65 L214.50,463.82 L215.00,463.97 L215.50,464.12 L216.00,464.25 L216.50,464.37 L217.00,464.48 L217.50,464.57 L218.00,464.65 L218.50,464.72 L219.00,464.80 L219.50,464.87 L220.00,464.93 L220.50,465.00 L221.00,465.06 L221.50,465.12 L222.00,465.18 L222.50,465.23 L223.00,465.29 L223.50,465.34 L224.00,465.39 L224.50,465.43 L225.00,465.47 L225.50,465.52 L226.00,465.56 L226.50,465.59 L227.00,465.63 L227.50,465.66 L228.00,465.69 L228.50,465.72 L229.00,465.75 L229.50,465.78 L230.00,465.80 L230.50,465.82 L231.00,465.85 L231.50,465.87 L232.00,465.89 L232.50,465.91 L233.00,465.93 L233.50,465.95 L234.00,465.97 L234.50,465.99 L235.00,466.01 L235.50,466.03 L236.00,466.04 L236.50,466.06 L237.00,466.08 L237.50,466.10 L238.00,466.11 L238.50,466.13 L239.00,466.14 L239.50,466.16 L240.00,466.17 L240.50,466.19 L241.00,466.20 L241.50,466.22 L242.00,466.23 L242.50,466.24 L243.00,466.26 L243.50,466.27 L244.00,466.28 L244.50,466.30 L245.00,466.31 L245.50,466.32 L246.00,466.33 L246.50,466.34 L247.00,466.35 L247.50,466.36 L248.00,466.37 L248.50,466.38 L249.00,466.39 L249.50,466.40 L250.00,466.41 L250.50,466.42 L251.00,466.43 L251.50,466.44 L252.00,466.45 L252.50,466.46 L253.00,466.47 L253.50,466.48 L254.00,466.48 L254.50,466.49 L255.00,466.50 L255.50,466.51 L256.00,466.52 L256.50,466.52 L257.00,466.53 L257.50,466.54 L258.00,466.55 L258.50,466.55 L259.00,466.56 L259.50,466.57 L260.00,466.58 L260.50,466.58 L261.00,466.59 L261.50,466.60 L262.00,466.60 L262.50,466.61 L263.00,466.62 L263.50,466.62 L264.00,466.63 L264.50,466.64 L265.00,466.64 L265.50,466.65 L266.00,466.65 L266.50,466.66 L267.00,466.66 L267.50,466.67 L268.00,466.67 L268.50,466.68 L269.00,466.68 L269.50,466.68 L270.00,466.69 L270.50,466.69 L271.00,466.69 L271.50,466.70 L272.00,466.70" fill="none" stroke="#7ddc5a" stroke-width="1.50" stroke-linejoin="round" stroke-linecap="round"/>
<path d="M135.50,449.50 L136.00,449.66 L136.50,449.81 L137.00,449.97 L137.50,450.12 L138.00,450.27 L138.50,450.41 L139.00,450.56 L139.50,450.70 L140.00,450.83 L140.50,450.97 L141.00,451.10 L141.50,451.23 L142.00,451.36 L142.50,451.48 L143.00,451.60 L143.50,451.71 L144.00,451.82 L144.50,451.93 L145.00,452.04 L145.50,452.14 L146.00,452.23 L146.50,452.33 L147.00,452.42 L147.50,452.50 L148.00,452.58 L148.50,452.67 L149.00,452.75 L149.50,452.84 L150.00,452.92 L150.50,453.01 L151.00,453.09 L151.50,453.17 L152.00,453.25 L152.50,453.33 L153.00,453.40 L153.50,453.47 L154.00,453.53 L154.50,453.59 L155.00,453.64 L155.50,453.69 L156.00,453.73 L156.50,453.76 L157.00,453.78 L157.50,453.80 L158.00,453.80 L158.50,453.79 L159.00,453.78 L159.50,453.75 L160.00,453.72 L160.50,453.67 L161.00,453.62 L161.50,453.56 L162.00,453.50 L162.50,453.43 L163.00,453.35 L163.50,453.27 L164.00,453.19 L164.50,453.10 L165.00,453.02 L165.50,452.92 L166.00,452.82 L166.50,452.69 L167.00,452.55 L167.50,452.40 L168.00,452.23 L168.50,452.04 L169.00,451.84 L169.50,451.62 L170.00,451.39 L170.50,451.14 L171.00,450.87 L171.50,450.59 L172.00,450.30 L172.50,449.97 L173.00,449.58 L173.50,449.13 L174.00,448.63 L174.50,448.07 L175.00,447.46 L175.50,446.80 L176.00,446.10 L176.50,445.35 L177.00,444.56 L177.50,443.72 L178.00,442.84 L178.50,441.92 L179.00,440.84 L179.50,439.61 L180.00,438.23 L180.50,436.73 L181.00,435.10 L181.50,433.39 L182.00,431.59 L182.50,429.72 L183.00,427.80 L183.50,425.85 L184.00,423.88 L184.50,421.90 L185.00,419.82 L185.50,417.59 L186.00,415.24 L186.50,412.80 L187.00,410.27 L187.50,407.69 L188.00,405.07 L188.50,402.43 L189.00,399.79 L189.50,397.18 L190.00,394.61 L190.50,392.10 L191.00,389.54 L191.50,386.94 L192.00,384.31 L192.50,381.67 L193.00,379.03 L193.50,376.42 L194.00,373.85 L194.50,371.33 L195.00,368.90 L195.50,366.56 L196.00,364.33 L196.50,362.20 L197.00,360.12 L197.50,358.08 L198.00,356.09 L198.50,354.15 L199.00,352.27 L199.50,350.44 L200.00,348.66 L200.50,346.95 L201.00,345.30 L201.50,343.71 L202.00,342.15 L202.50,340.57 L203.00,339.04 L203.50,337.63 L204.00,336.41 L204.50,335.45 L205.00,334.71 L205.50,334.01 L206.00,333.47 L206.50,333.21 L207.00,333.26 L207.50,333.49 L208.00,333.87 L208.50,334.35 L209.00,334.90 L209.50,335.50 L210.00,336.26 L210.50,337.29 L211.00,338.57 L211.50,340.04 L212.00,341.66 L212.50,343.39 L213.00,345.20 L213.50,347.06 L214.00,349.16 L214.50,351.52 L215.00,354.09 L215.50,356.82 L216.00,359.68 L216.50,362.61 L217.00,365.57 L217.50,368.53 L218.00,371.48 L218.50,374.57 L219.00,377.77 L219.50,381.06 L220.00,384.38 L220.50,387.70 L221.00,390.97 L221.50,394.15 L222.00,397.22 L222.50,400.30 L223.00,403.39 L223.50,406.44 L224.00,409.40 L224.50,412.25 L225.00,414.93 L225.50,417.40 L226.00,419.70 L226.50,421.92 L227.00,424.03 L227.50,426.05 L228.00,427.97 L228.50,429.79 L229.00,431.50 L229.50,433.11 L230.00,434.60 L230.50,435.98 L231.00,437.29 L231.50,438.55 L232.00,439.79 L232.50,441.05 L233.00,442.35 L233.50,443.65 L234.00,444.95 L234.50,446.20 L235.00,447.40 L235.50,448.51 L236.00,449.50 L236.50,450.40 L237.00,451.26 L237.50,452.07 L238.00,452.84 L238.50,453.56 L239.00,454.24 L239.50,454.89 L240.00,455.50 L240.50,456.08 L241.00,456.63 L241.50,457.16 L242.00,457.66 L242.50,458.14 L243.00,458.60 L243.50,459.03 L244.00,459.44 L244.50,459.83 L245.00,460.21 L245.50,460.57 L246.00,460.92 L246.50,461.26 L247.00,461.59 L247.50,461.90 L248.00,462.20 L248.50,462.49 L249.00,462.77 L249.50,463.04 L250.00,463.30 L250.50,463.56 L251.00,463.82 L251.50,464.07 L252.00,464.32 L252.50,464.56 L253.00,464.79 L253.50,464.99 L254.00,465.16 L254.50,465.30 L255.00,465.40 L255.50,465.48 L256.00,465.55 L256.50,465.62 L257.00,465.68 L257.50,465.74 L258.00,465.79 L258.50,465.84 L259.00,465.89 L259.50,465.93 L260.00,465.97 L260.50,466.01 L261.00,466.05 L261.50,466.08 L262.00,466.12 L262.50,466.15 L263.00,466.18 L263.50,466.21 L264.00,466.25 L264.50,466.28 L265.00,466.31 L265.50,466.35 L266.00,466.38 L266.50,466.41 L267.00,466.44 L267.50,466.47 L268.00,466.50 L268.50,466.53 L269.00,466.56 L269.50,466.58 L270.00,466.61 L270.50,466.63 L271.00,466.66 L271.50,466.68 L272.00,466.70" fill="none" stroke="#d12d4e" stroke-width="1.50" stroke-linejoin="round" stroke-linecap="round"/>
<path d="M135.50,449.50 L136.00,449.74 L136.50,449.98 L137.00,450.21 L137.50,450.44 L138.00,450.67 L138.50,450.90 L139.00,451.12 L139.50,451.34 L140.00,451.56 L140.50,451.78 L141.00,451.99 L141.50,452.19 L142.00,452.39 L142.50,452.59 L143.00,452.78 L143.50,452.97 L144.00,453.15 L144.50,453.33 L145.00,453.50 L145.50,453.67 L146.00,453.83 L146.50,453.99 L147.00,454.15 L147.50,454.31 L148.00,454.47 L148.50,454.62 L149.00,454.77 L149.50,454.92 L150.00,455.06 L150.50,455.20 L151.00,455.35 L151.50,455.48 L152.00,455.62 L152.50,455.76 L153.00,455.89 L153.50,456.02 L154.00,456.15 L154.50,456.28 L155.00,456.40 L155.50,456.53 L156.00,456.65 L156.50,456.77 L157.00,456.89 L157.50,457.01 L158.00,457.13 L158.50,457.24 L159.00,457.35 L159.50,457.47 L160.00,457.58 L160.50,457.69 L161.00,457.80 L161.50,457.90 L162.00,458.01 L162.50,458.11 L163.00,458.22 L163.50,458.32 L164.00,458.42 L164.50,458.52 L165.00,458.62 L165.50,458.71 L166.00,458.81 L166.50,458.90 L167.00,459.00 L167.50,459.09 L168.00,459.18 L168.50,459.28 L169.00,459.37 L169.50,459.46 L170.00,459.54 L170.50,459.63 L171.00,459.72 L171.50,459.81 L172.00,459.89 L172.50,459.98 L173.00,460.06 L173.50,460.15 L174.00,460.23 L174.50,460.32 L175.00,460.40 L175.50,460.48 L176.00,460.56 L176.50,460.64 L177.00,460.72 L177.50,460.80 L178.00,460.87 L178.50,460.95 L179.00,461.02 L179.50,461.10 L180.00,461.17 L180.50,461.24 L181.00,461.32 L181.50,461.39 L182.00,461.46 L182.50,461.53 L183.00,461.60 L183.50,461.67 L184.00,461.74 L184.50,461.81 L185.00,461.89 L185.50,461.96 L186.00,462.03 L186.50,462.10 L187.00,462.18 L187.50,462.25 L188.00,462.32 L188.50,462.40 L189.00,462.48 L189.50,462.56 L190.00,462.64 L190.50,462.72 L191.00,462.81 L191.50,462.90 L192.00,462.99 L192.50,463.07 L193.00,463.16 L193.50,463.25 L194.00,463.34 L194.50,463.42 L195.00,463.51 L195.50,463.59 L196.00,463.67 L196.50,463.75 L197.00,463.83 L197.50,463.90 L198.00,463.97 L198.50,464.03 L199.00,464.09 L199.50,464.15 L200.00,464.20 L200.50,464.25 L201.00,464.29 L201.50,464.34 L202.00,464.38 L202.50,464.43 L203.00,464.47 L203.50,464.51 L204.00,464.55 L204.50,464.59 L205.00,464.63 L205.50,464.67 L206.00,464.71 L206.50,464.75 L207.00,464.78 L207.50,464.82 L208.00,464.85 L208.50,464.89 L209.00,464.92 L209.50,464.95 L210.00,464.98 L210.50,465.01 L211.00,465.04 L211.50,465.07 L212.00,465.10 L212.50,465.13 L213.00,465.16 L213.50,465.18 L214.00,465.21 L214.50,465.24 L215.00,465.26 L215.50,465.29 L216.00,465.31 L216.50,465.33 L217.00,465.36 L217.50,465.38 L218.00,465.40 L218.50,465.42 L219.00,465.44 L219.50,465.46 L220.00,465.48 L220.50,465.50 L221.00,465.52 L221.50,465.54 L222.00,465.55 L222.50,465.57 L223.00,465.59 L223.50,465.60 L224.00,465.62 L224.50,465.64 L225.00,465.65 L225.50,465.67 L226.00,465.68 L226.50,465.70 L227.00,465.71 L227.50,465.73 L228.00,465.74 L228.50,465.76 L229.00,465.77 L229.50,465.78 L230.00,465.80 L230.50,465.82 L231.00,465.83 L231.50,465.85 L232.00,465.86 L232.50,465.88 L233.00,465.89 L233.50,465.91 L234.00,465.92 L234.50,465.94 L235.00,465.96 L235.50,465.97 L236.00,465.99 L236.50,466.00 L237.00,466.02 L237.50,466.03 L238.00,466.05 L238.50,466.06 L239.00,466.08 L239.50,466.10 L240.00,466.11 L240.50,466.13 L241.00,466.14 L241.50,466.16 L242.00,466.17 L242.50,466.19 L243.00,466.20 L243.50,466.22 L244.00,466.23 L244.50,466.24 L245.00,466.26 L245.50,466.27 L246.00,466.29 L246.50,466.30 L247.00,466.31 L247.50,466.33 L248.00,466.34 L248.50,466.35 L249.00,466.36 L249.50,466.38 L250.00,466.39 L250.50,466.40 L251.00,466.41 L251.50,466.42 L252.00,466.43 L252.50,466.44 L253.00,466.45 L253.50,466.46 L254.00,466.47 L254.50,466.48 L255.00,466.49 L255.50,466.50 L256.00,466.51 L256.50,466.51 L257.00,466.52 L257.50,466.53 L258.00,466.54 L258.50,466.55 L259.00,466.55 L259.50,466.56 L260.00,466.57 L260.50,466.58 L261.00,466.58 L261.50,466.59 L262.00,466.60 L262.50,466.60 L263.00,466.61 L263.50,466.62 L264.00,466.62 L264.50,466.63 L265.00,466.64 L265.50,466.64 L266.00,466.65 L266.50,466.65 L267.00,466.66 L267.50,466.66 L268.00,466.67 L268.50,466.67 L269.00,466.68 L269.50,466.68 L270.00,466.69 L270.50,466.69 L271.00,466.69 L271.50,466.70 L272.00,466.70" fill="none" stroke="#a44ee0" stroke-width="1.60" stroke-linejoin="round" stroke-linecap="round"/>
<path d="M135.50,448.50 L136.00,448.49 L136.50,448.46 L137.00,448.43 L137.50,448.39 L138.00,448.35 L138.50,448.30 L139.01,448.25 L139.51,448.18 L140.01,448.11 L140.51,448.03 L141.01,447.94 L141.51,447.84 L142.01,447.72 L142.51,447.60 L143.01,447.47 L143.51,447.34 L144.01,447.19 L144.51,447.03 L145.01,446.84 L145.51,446.61 L146.02,446.33 L146.52,446.01 L147.02,445.67 L147.52,445.30 L148.02,444.93 L148.52,444.55 L149.02,444.19 L149.52,443.83 L150.02,443.47 L150.52,443.10 L151.02,442.73 L151.52,442.35 L152.02,441.95 L152.52,441.52 L153.03,441.06 L153.53,440.57 L154.03,440.04 L154.53,439.47 L155.03,438.82 L155.53,438.09 L156.03,437.27 L156.53,436.38 L157.03,435.43 L157.53,434.41 L158.03,433.34 L158.53,432.22 L159.03,431.07 L159.54,429.87 L160.04,428.65 L160.54,427.41 L161.04,426.09 L161.54,424.66 L162.04,423.14 L162.54,421.54 L163.04,419.87 L163.54,418.15 L164.04,416.40 L164.54,414.63 L165.04,412.85 L165.54,411.02 L166.04,409.12 L166.55,407.16 L167.05,405.16 L167.55,403.13 L168.05,401.09 L168.55,399.04 L169.05,397.01 L169.55,394.99 L170.05,392.91 L170.55,390.79 L171.05,388.66 L171.55,386.57 L172.05,384.53 L172.55,382.61 L173.05,380.81 L173.56,379.08 L174.06,377.39 L174.56,375.76 L175.06,374.22 L175.56,372.81 L176.06,371.54 L176.56,370.45 L177.06,369.44 L177.56,368.50 L178.06,367.64 L178.56,366.86 L179.06,366.15 L179.56,365.52 L180.06,364.97 L180.57,364.47 L181.07,364.02 L181.57,363.59 L182.07,363.18 L182.57,362.77 L183.07,362.34 L183.57,361.93 L184.07,361.55 L184.57,361.19 L185.07,360.84 L185.57,360.49 L186.07,360.13 L186.57,359.74 L187.08,359.33 L187.58,358.88 L188.08,358.37 L188.58,357.81 L189.08,357.13 L189.58,356.32 L190.08,355.40 L190.58,354.40 L191.08,353.33 L191.58,352.22 L192.08,351.07 L192.58,349.92 L193.08,348.77 L193.58,347.52 L194.09,346.17 L194.59,344.76 L195.09,343.32 L195.59,341.88 L196.09,340.49 L196.59,339.17 L197.09,337.96 L197.59,336.88 L198.09,335.82 L198.59,334.79 L199.09,333.80 L199.59,332.88 L200.09,332.04 L200.59,331.31 L201.10,330.69 L201.60,330.10 L202.10,329.51 L202.60,328.96 L203.10,328.47 L203.60,328.06 L204.10,327.76 L204.60,327.61 L205.10,327.61 L205.60,327.67 L206.10,327.79 L206.60,327.94 L207.10,328.13 L207.61,328.35 L208.11,328.80 L208.61,329.50 L209.11,330.40 L209.61,331.43 L210.11,332.54 L210.61,333.69 L211.11,335.02 L211.61,336.56 L212.11,338.26 L212.61,340.11 L213.11,342.08 L213.61,344.13 L214.11,346.25 L214.62,348.40 L215.12,350.58 L215.62,352.83 L216.12,355.18 L216.62,357.64 L217.12,360.23 L217.62,362.95 L218.12,365.82 L218.62,368.86 L219.12,372.08 L219.62,375.75 L220.12,380.15 L220.62,384.92 L221.12,389.73 L221.63,394.21 L222.13,398.02 L222.63,401.12 L223.13,403.96 L223.63,406.57 L224.13,409.02 L224.63,411.34 L225.13,413.59 L225.63,415.81 L226.13,418.04 L226.63,420.26 L227.13,422.44 L227.63,424.57 L228.14,426.62 L228.64,428.55 L229.14,430.36 L229.64,432.02 L230.14,433.51 L230.64,434.88 L231.14,436.17 L231.64,437.41 L232.14,438.65 L232.64,439.92 L233.14,441.22 L233.64,442.53 L234.14,443.83 L234.64,445.09 L235.15,446.28 L235.65,447.39 L236.15,448.39 L236.65,449.30 L237.15,450.17 L237.65,450.98 L238.15,451.75 L238.65,452.48 L239.15,453.17 L239.65,453.82 L240.15,454.43 L240.65,455.02 L241.15,455.59 L241.65,456.13 L242.16,456.65 L242.66,457.15 L243.16,457.62 L243.66,458.07 L244.16,458.50 L244.66,458.91 L245.16,459.30 L245.66,459.68 L246.16,460.05 L246.66,460.41 L247.16,460.75 L247.66,461.08 L248.16,461.39 L248.66,461.69 L249.17,461.97 L249.67,462.23 L250.17,462.48 L250.67,462.73 L251.17,462.97 L251.67,463.21 L252.17,463.44 L252.67,463.67 L253.17,463.89 L253.67,464.10 L254.17,464.30 L254.67,464.48 L255.17,464.66 L255.68,464.81 L256.18,464.95 L256.68,465.07 L257.18,465.16 L257.68,465.24 L258.18,465.31 L258.68,465.38 L259.18,465.45 L259.68,465.51 L260.18,465.57 L260.68,465.63 L261.18,465.68 L261.68,465.72 L262.18,465.77 L262.69,465.80 L263.19,465.83 L263.69,465.86 L264.19,465.88 L264.69,465.90 L265.19,465.91 L265.69,465.92 L266.19,465.93 L266.69,465.94 L267.19,465.95 L267.69,465.96 L268.19,465.96 L268.69,465.97 L269.19,465.98 L269.70,465.98 L270.20,465.99 L270.70,465.99 L271.20,466.00 L271.70,466.00 L272.20,466.00 L272.70,466.00" fill="none" stroke="#3e1428" stroke-width="1.75" stroke-linejoin="round" stroke-linecap="round"/>
<polyline points="21.50,452.30 22.50,453.73 23.50,454.88 24.50,455.52 25.50,454.13 26.50,452.69 27.50,450.55 28.50,449.03 29.50,449.80 30.50,454.82 31.50,455.82 32.50,452.30 33.50,454.38 34.50,453.48 35.50,456.77 36.50,456.89 37.50,450.80 38.50,447.80 39.50,450.90 40.50,451.45 41.50,449.28 42.50,450.58 43.50,451.75 44.50,452.30 45.50,454.12 46.50,455.66 47.50,454.82 48.50,452.62 49.50,452.96 50.50,453.56 51.50,453.53 52.50,451.94 53.50,449.98 54.50,450.95 55.50,453.32 56.50,455.80 57.50,455.28 58.50,453.33 59.50,451.50 60.50,450.92 61.50,452.40 62.50,453.12 63.50,453.61 64.50,455.37 65.50,456.12 66.50,456.03 67.50,455.34 68.50,453.79 69.50,452.17 70.50,453.00 71.50,456.30 72.50,454.36 73.50,454.17 74.50,452.66 75.50,452.41 76.50,451.02 77.50,452.32 78.50,453.91 79.50,453.85 80.50,453.39 81.50,451.80 82.50,453.87 83.50,454.80 84.50,453.76 85.50,453.47 86.50,454.16 87.50,457.70 88.50,458.81 89.50,455.30 90.50,457.36 91.50,456.98 92.50,456.30 93.50,457.39 94.50,458.19 95.50,458.32 96.50,457.29 97.50,455.64 98.50,454.82 99.50,453.37 100.50,454.08 101.50,457.92 102.50,460.30 103.50,456.52 104.50,456.22 105.50,457.80 106.50,455.06 107.50,454.53 108.50,457.30 109.50,455.96 110.50,454.78 111.50,456.50 112.50,456.64 113.50,457.81 114.50,457.20 115.50,455.88 116.50,454.80 117.50,453.96 118.50,451.80 119.50,457.56 120.50,456.53 121.50,455.64 122.50,457.29 123.50,460.30 124.50,457.40 125.50,454.80 126.50,453.63 127.50,453.62 128.50,455.12 129.50,456.74 130.50,454.15 131.50,452.96 132.50,452.68 133.50,451.30 134.50,450.06 135.50,449.30" fill="none" stroke="#a44ee0" stroke-width="1.30" stroke-linejoin="round"/>
<polyline points="21.50,451.50 22.50,452.93 23.50,454.08 24.50,454.72 25.50,453.33 26.50,451.89 27.50,449.75 28.50,448.23 29.50,449.00 30.50,454.02 31.50,455.02 32.50,451.50 33.50,453.58 34.50,452.68 35.50,455.97 36.50,456.09 37.50,450.00 38.50,447.00 39.50,450.10 40.50,450.65 41.50,448.48 42.50,449.78 43.50,450.95 44.50,451.50 45.50,453.32 46.50,454.86 47.50,454.02 48.50,451.82 49.50,452.16 50.50,452.76 51.50,452.73 52.50,451.14 53.50,449.18 54.50,450.15 55.50,452.52 56.50,455.00 57.50,454.48 58.50,452.53 59.50,450.70 60.50,450.12 61.50,451.60 62.50,452.32 63.50,452.81 64.50,454.57 65.50,455.32 66.50,455.23 67.50,454.54 68.50,452.99 69.50,451.37 70.50,452.20 71.50,455.50 72.50,453.56 73.50,453.37 74.50,451.86 75.50,451.61 76.50,450.22 77.50,451.52 78.50,453.11 79.50,453.05 80.50,452.59 81.50,451.00 82.50,453.07 83.50,454.00 84.50,452.96 85.50,452.67 86.50,453.36 87.50,456.90 88.50,458.01 89.50,454.50 90.50,456.56 91.50,456.18 92.50,455.50 93.50,456.59 94.50,457.39 95.50,457.52 96.50,456.49 97.50,454.84 98.50,454.02 99.50,452.57 100.50,453.28 101.50,457.12 102.50,459.50 103.50,455.72 104.50,455.42 105.50,457.00 106.50,454.26 107.50,453.73 108.50,456.50 109.50,455.16 110.50,453.98 111.50,455.70 112.50,455.84 113.50,457.01 114.50,456.40 115.50,455.08 116.50,454.00 117.50,453.16 118.50,451.00 119.50,456.76 120.50,455.73 121.50,454.84 122.50,456.49 123.50,459.50 124.50,456.60 125.50,454.00 126.50,452.83 127.50,452.82 128.50,454.32 129.50,455.94 130.50,453.35 131.50,452.16 132.50,451.88 133.50,450.50 134.50,449.26 135.50,448.50" fill="none" stroke="#3e1428" stroke-width="1.70" stroke-linejoin="round"/>
<polyline points="272.70,466.80 273.70,466.53 274.70,467.04 275.70,467.16 276.70,466.50 277.70,467.23 278.70,465.80 279.70,464.75 280.70,464.50 281.70,466.95 282.70,466.38" fill="none" stroke="#a44ee0" stroke-width="1.30" stroke-linejoin="round"/>
<polyline points="272.70,466.00 273.70,465.73 274.70,466.24 275.70,466.36 276.70,465.70 277.70,466.43 278.70,465.00 279.70,463.95 280.70,463.70 281.70,466.15 282.70,465.58" fill="none" stroke="#3e1428" stroke-width="1.70" stroke-linejoin="round"/>
<circle cx="136.40" cy="453.90" r="0.95" fill="#1a1a1a"/>
<circle cx="141.80" cy="445.70" r="0.95" fill="#1a1a1a"/>
<circle cx="145.90" cy="444.30" r="0.95" fill="#1a1a1a"/>
<circle cx="150.00" cy="440.20" r="0.95" fill="#1a1a1a"/>
<circle cx="152.80" cy="436.10" r="0.95" fill="#1a1a1a"/>
<circle cx="155.50" cy="432.00" r="0.95" fill="#1a1a1a"/>
<circle cx="158.20" cy="423.80" r="0.95" fill="#1a1a1a"/>
<circle cx="161.00" cy="418.40" r="0.95" fill="#1a1a1a"/>
<circle cx="163.70" cy="412.90" r="0.95" fill="#1a1a1a"/>
<circle cx="165.00" cy="407.40" r="0.95" fill="#1a1a1a"/>
<circle cx="167.20" cy="399.20" r="0.95" fill="#1a1a1a"/>
<circle cx="169.20" cy="392.40" r="0.95" fill="#1a1a1a"/>
<circle cx="171.90" cy="385.60" r="0.95" fill="#1a1a1a"/>
<circle cx="173.30" cy="377.40" r="0.95" fill="#1a1a1a"/>
<circle cx="176.00" cy="367.80" r="0.95" fill="#1a1a1a"/>
<circle cx="178.70" cy="363.70" r="0.95" fill="#1a1a1a"/>
<circle cx="182.80" cy="355.50" r="0.95" fill="#1a1a1a"/>
<circle cx="185.50" cy="358.30" r="0.95" fill="#1a1a1a"/>
<circle cx="189.60" cy="358.30" r="0.95" fill="#1a1a1a"/>
<circle cx="192.40" cy="354.20" r="0.95" fill="#1a1a1a"/>
<circle cx="193.70" cy="352.80" r="0.95" fill="#1a1a1a"/>
<circle cx="196.50" cy="342.50" r="0.95" fill="#1a1a1a"/>
<circle cx="199.20" cy="332.30" r="0.95" fill="#1a1a1a"/>
<circle cx="201.90" cy="330.90" r="0.95" fill="#1a1a1a"/>
<circle cx="204.70" cy="324.10" r="0.95" fill="#1a1a1a"/>
<circle cx="207.40" cy="324.10" r="0.95" fill="#1a1a1a"/>
<circle cx="209.80" cy="329.50" r="0.95" fill="#1a1a1a"/>
<circle cx="212.20" cy="337.50" r="0.95" fill="#1a1a1a"/>
<circle cx="214.50" cy="348.00" r="0.95" fill="#1a1a1a"/>
<circle cx="216.80" cy="360.00" r="0.95" fill="#1a1a1a"/>
<circle cx="218.90" cy="384.00" r="0.95" fill="#1a1a1a"/>
<circle cx="220.40" cy="391.00" r="0.95" fill="#1a1a1a"/>
<circle cx="221.90" cy="398.50" r="0.95" fill="#1a1a1a"/>
<circle cx="223.70" cy="409.60" r="0.95" fill="#1a1a1a"/>
<circle cx="225.30" cy="414.60" r="0.95" fill="#1a1a1a"/>
<circle cx="227.50" cy="423.50" r="0.95" fill="#1a1a1a"/>
<circle cx="230.60" cy="432.80" r="0.95" fill="#1a1a1a"/>
<circle cx="233.00" cy="434.60" r="0.95" fill="#1a1a1a"/>
<circle cx="235.50" cy="441.00" r="0.95" fill="#1a1a1a"/>
<circle cx="238.00" cy="444.80" r="0.95" fill="#1a1a1a"/>
<circle cx="239.80" cy="449.40" r="0.95" fill="#1a1a1a"/>
<circle cx="242.60" cy="453.10" r="0.95" fill="#1a1a1a"/>
<circle cx="245.40" cy="455.00" r="0.95" fill="#1a1a1a"/>
<circle cx="250.90" cy="456.80" r="0.95" fill="#1a1a1a"/>
<circle cx="254.60" cy="459.60" r="0.95" fill="#1a1a1a"/>
<circle cx="259.20" cy="458.70" r="0.95" fill="#1a1a1a"/>
<circle cx="262.00" cy="460.50" r="0.95" fill="#1a1a1a"/>
<circle cx="265.70" cy="462.30" r="0.95" fill="#1a1a1a"/>
<circle cx="270.30" cy="461.50" r="0.95" fill="#1a1a1a"/>
<circle cx="253.70" cy="460.00" r="0.95" fill="#1a1a1a"/>
<circle cx="258.30" cy="458.00" r="0.95" fill="#1a1a1a"/>
<circle cx="260.30" cy="460.70" r="0.95" fill="#1a1a1a"/>
<circle cx="264.70" cy="462.70" r="0.95" fill="#1a1a1a"/>
<circle cx="267.30" cy="462.30" r="0.95" fill="#1a1a1a"/>
<circle cx="269.30" cy="467.70" r="0.95" fill="#1a1a1a"/>
<rect x="21.00" y="263.20" width="109.40" height="76.40" fill="#fff" stroke="#6f8482" stroke-width="1.4"/>
<path d="M21.00,475.20 L21.00,263.20 L284.00,263.20 L284.00,475.20" fill="none" stroke="#3c3c3c" stroke-width="1.7" stroke-linecap="square"/>
<line x1="20.20" y1="475.20" x2="284.80" y2="475.20" stroke="#686868" stroke-width="1.8"/>
<line x1="21.00" y1="475.20" x2="21.00" y2="479.20" stroke="#2e2e3a" stroke-width="1.3"/>
<text transform="translate(21.00,492.20) scale(0.93,1)" class="tk">170</text>
<line x1="44.91" y1="475.20" x2="44.91" y2="477.60" stroke="#2e2e3a" stroke-width="1.2"/>
<line x1="68.82" y1="475.20" x2="68.82" y2="479.20" stroke="#2e2e3a" stroke-width="1.3"/>
<text transform="translate(68.82,492.20) scale(0.93,1)" class="tk">168</text>
<line x1="92.73" y1="475.20" x2="92.73" y2="477.60" stroke="#2e2e3a" stroke-width="1.2"/>
<line x1="116.64" y1="475.20" x2="116.64" y2="479.20" stroke="#2e2e3a" stroke-width="1.3"/>
<text transform="translate(116.64,492.20) scale(0.93,1)" class="tk">166</text>
<line x1="140.55" y1="475.20" x2="140.55" y2="477.60" stroke="#2e2e3a" stroke-width="1.2"/>
<line x1="164.45" y1="475.20" x2="164.45" y2="479.20" stroke="#2e2e3a" stroke-width="1.3"/>
<text transform="translate(164.45,492.20) scale(0.93,1)" class="tk">164</text>
<line x1="188.36" y1="475.20" x2="188.36" y2="477.60" stroke="#2e2e3a" stroke-width="1.2"/>
<line x1="212.27" y1="475.20" x2="212.27" y2="479.20" stroke="#2e2e3a" stroke-width="1.3"/>
<text transform="translate(212.27,492.20) scale(0.93,1)" class="tk">162</text>
<line x1="236.18" y1="475.20" x2="236.18" y2="477.60" stroke="#2e2e3a" stroke-width="1.2"/>
<line x1="260.09" y1="475.20" x2="260.09" y2="479.20" stroke="#2e2e3a" stroke-width="1.3"/>
<text transform="translate(260.09,492.20) scale(0.93,1)" class="tk">160</text>
<line x1="284.00" y1="475.20" x2="284.00" y2="477.60" stroke="#2e2e3a" stroke-width="1.2"/>
<circle cx="23.00" cy="272.00" r="0.85" fill="#222"/>
<circle cx="29.00" cy="272.00" r="0.85" fill="#222"/>
<circle cx="35.00" cy="272.00" r="0.85" fill="#222"/>
<circle cx="41.00" cy="272.00" r="0.85" fill="#222"/>
<circle cx="47.00" cy="272.00" r="0.85" fill="#222"/>
<text x="50.20" y="277.00" class="cjk">实验</text>
<line x1="23.00" y1="285.00" x2="47.00" y2="285.00" stroke="#d12d4e" stroke-width="1.8"/>
<text x="49.00" y="288.70" class="lg">S 2p<tspan dy="3.3">3/2</tspan><tspan dy="-3.3">, Ag-SR</tspan></text>
<line x1="23.00" y1="301.60" x2="47.00" y2="301.60" stroke="#7ddc5a" stroke-width="1.8"/>
<text x="49.00" y="305.40" class="lg">S 2p<tspan dy="3.3">1/2</tspan><tspan dy="-3.3">, Ag-SR</tspan></text>
<line x1="23.00" y1="318.40" x2="47.00" y2="318.40" stroke="#a44ee0" stroke-width="1.8"/>
<text x="51.00" y="321.80" class="cjk">背景</text>
<line x1="23.00" y1="332.00" x2="47.00" y2="332.00" stroke="#3e1428" stroke-width="1.8"/>
<text x="51.00" y="335.30" class="cjk">适应性</text>
<text x="237.50" y="294.70" class="big">(c)</text>
<text transform="translate(10.30,363.00) rotate(-90)" class="cps">CPS</text>
<text x="135.00" y="510.00" class="cjkx">结合能</text>
<text transform="translate(184.20,510.00) scale(0.9,1)" class="evx">(eV)</text>
<path d="M376.30,434.00 L376.80,433.97 L377.30,433.92 L377.80,433.87 L378.30,433.81 L378.80,433.73 L379.30,433.65 L379.80,433.57 L380.31,433.47 L380.81,433.37 L381.31,433.27 L381.81,433.16 L382.31,433.04 L382.81,432.92 L383.31,432.80 L383.81,432.67 L384.31,432.54 L384.81,432.40 L385.31,432.27 L385.81,432.13 L386.31,431.97 L386.81,431.81 L387.31,431.63 L387.81,431.45 L388.32,431.25 L388.82,431.05 L389.32,430.83 L389.82,430.61 L390.32,430.37 L390.82,430.13 L391.32,429.87 L391.82,429.60 L392.32,429.33 L392.82,429.05 L393.32,428.75 L393.82,428.45 L394.32,428.14 L394.82,427.81 L395.32,427.48 L395.83,427.13 L396.33,426.74 L396.83,426.33 L397.33,425.88 L397.83,425.41 L398.33,424.91 L398.83,424.39 L399.33,423.84 L399.83,423.28 L400.33,422.69 L400.83,422.09 L401.33,421.48 L401.83,420.85 L402.33,420.20 L402.83,419.55 L403.34,418.89 L403.84,418.22 L404.34,417.54 L404.84,416.86 L405.34,416.18 L405.84,415.49 L406.34,414.77 L406.84,414.02 L407.34,413.25 L407.84,412.45 L408.34,411.63 L408.84,410.80 L409.34,409.94 L409.84,409.07 L410.34,408.19 L410.84,407.30 L411.35,406.40 L411.85,405.50 L412.35,404.59 L412.85,403.68 L413.35,402.76 L413.85,401.80 L414.35,400.81 L414.85,399.79 L415.35,398.76 L415.85,397.71 L416.35,396.65 L416.85,395.59 L417.35,394.53 L417.85,393.49 L418.35,392.46 L418.86,391.45 L419.36,390.47 L419.86,389.53 L420.36,388.62 L420.86,387.76 L421.36,386.88 L421.86,386.00 L422.36,385.11 L422.86,384.23 L423.36,383.36 L423.86,382.51 L424.36,381.68 L424.86,380.88 L425.36,380.11 L425.86,379.40 L426.37,378.73 L426.87,378.11 L427.37,377.56 L427.87,377.08 L428.37,376.67 L428.87,376.27 L429.37,375.88 L429.87,375.50 L430.37,375.13 L430.87,374.78 L431.37,374.44 L431.87,374.13 L432.37,373.85 L432.87,373.60 L433.37,373.39 L433.87,373.22 L434.38,373.09 L434.88,373.02 L435.38,373.00 L435.88,373.04 L436.38,373.13 L436.88,373.27 L437.38,373.45 L437.88,373.68 L438.38,373.95 L438.88,374.26 L439.38,374.60 L439.88,374.97 L440.38,375.36 L440.88,375.78 L441.38,376.21 L441.89,376.67 L442.39,377.13 L442.89,377.61 L443.39,378.09 L443.89,378.63 L444.39,379.28 L444.89,380.04 L445.39,380.90 L445.89,381.83 L446.39,382.83 L446.89,383.89 L447.39,385.00 L447.89,386.14 L448.39,387.31 L448.89,388.48 L449.40,389.66 L449.90,390.83 L450.40,391.97 L450.90,393.08 L451.40,394.17 L451.90,395.29 L452.40,396.45 L452.90,397.63 L453.40,398.84 L453.90,400.05 L454.40,401.27 L454.90,402.50 L455.40,403.72 L455.90,404.93 L456.40,406.12 L456.90,407.29 L457.41,408.43 L457.91,409.53 L458.41,410.60 L458.91,411.63 L459.41,412.64 L459.91,413.63 L460.41,414.61 L460.91,415.57 L461.41,416.52 L461.91,417.45 L462.41,418.37 L462.91,419.28 L463.41,420.17 L463.91,421.05 L464.41,421.91 L464.92,422.77 L465.42,423.61 L465.92,424.44 L466.42,425.25 L466.92,426.07 L467.42,426.89 L467.92,427.70 L468.42,428.50 L468.92,429.28 L469.42,430.04 L469.92,430.78 L470.42,431.49 L470.92,432.17 L471.42,432.81 L471.92,433.41 L472.43,433.98 L472.93,434.54 L473.43,435.10 L473.93,435.64 L474.43,436.17 L474.93,436.69 L475.43,437.19 L475.93,437.68 L476.43,438.15 L476.93,438.60 L477.43,439.03 L477.93,439.44 L478.43,439.82 L478.93,440.17 L479.43,440.50 L479.93,440.80 L480.44,441.07 L480.94,441.32 L481.44,441.57 L481.94,441.81 L482.44,442.04 L482.94,442.26 L483.44,442.47 L483.94,442.67 L484.44,442.87 L484.94,443.05 L485.44,443.23 L485.94,443.40 L486.44,443.57 L486.94,443.72 L487.44,443.87 L487.95,444.01 L488.45,444.14 L488.95,444.26 L489.45,444.38 L489.95,444.49 L490.45,444.59 L490.95,444.70 L491.45,444.80 L491.95,444.90 L492.45,444.99 L492.95,445.08 L493.45,445.17 L493.95,445.26 L494.45,445.34 L494.95,445.41 L495.46,445.48 L495.96,445.54 L496.46,445.59 L496.96,445.63 L497.46,445.67 L497.96,445.70 L498.46,445.72 L498.96,445.74 L499.46,445.76 L499.96,445.79 L500.46,445.81 L500.96,445.83 L501.46,445.85 L501.96,445.87 L502.46,445.89 L502.96,445.90 L503.47,445.92 L503.97,445.94 L504.47,445.96 L504.97,445.98 L505.47,445.99 L505.97,446.01 L506.47,446.03 L506.97,446.04 L507.47,446.06 L507.97,446.07 L508.47,446.09 L508.97,446.10 L509.47,446.12 L509.97,446.13 L510.47,446.14 L510.98,446.16 L511.48,446.17 L511.98,446.18 L512.48,446.19 L512.98,446.21 L513.48,446.22 L513.98,446.23 L514.48,446.24 L514.98,446.25 L515.48,446.26 L515.98,446.27 L516.48,446.28 L516.98,446.29 L517.48,446.30 L517.98,446.30 L518.49,446.31 L518.99,446.32 L519.49,446.33 L519.99,446.33 L520.49,446.34 L520.99,446.35 L521.49,446.35 L521.99,446.36 L522.49,446.36 L522.99,446.37 L523.49,446.37 L523.99,446.38 L524.49,446.38 L524.99,446.38 L525.49,446.39 L525.99,446.39 L526.50,446.39 L527.00,446.39 L527.50,446.40 L528.00,446.40 L528.50,446.40 L529.00,446.40 L529.50,446.40 L530.00,446.40" fill="none" stroke="#7ddc5a" stroke-width="1.50" stroke-linejoin="round" stroke-linecap="round"/>
<path d="M376.30,437.60 L376.80,437.66 L377.30,437.72 L377.80,437.77 L378.30,437.83 L378.80,437.88 L379.30,437.94 L379.80,437.99 L380.30,438.04 L380.81,438.09 L381.31,438.14 L381.81,438.19 L382.31,438.24 L382.81,438.28 L383.31,438.33 L383.81,438.37 L384.31,438.41 L384.81,438.45 L385.31,438.49 L385.81,438.53 L386.31,438.57 L386.81,438.60 L387.31,438.63 L387.81,438.66 L388.31,438.69 L388.82,438.72 L389.32,438.75 L389.82,438.77 L390.32,438.79 L390.82,438.81 L391.32,438.83 L391.82,438.85 L392.32,438.86 L392.82,438.87 L393.32,438.88 L393.82,438.89 L394.32,438.90 L394.82,438.90 L395.32,438.90 L395.82,438.90 L396.32,438.90 L396.83,438.90 L397.33,438.89 L397.83,438.89 L398.33,438.89 L398.83,438.88 L399.33,438.88 L399.83,438.87 L400.33,438.87 L400.83,438.86 L401.33,438.85 L401.83,438.84 L402.33,438.83 L402.83,438.83 L403.33,438.82 L403.83,438.80 L404.33,438.79 L404.84,438.78 L405.34,438.77 L405.84,438.75 L406.34,438.74 L406.84,438.73 L407.34,438.71 L407.84,438.69 L408.34,438.68 L408.84,438.66 L409.34,438.64 L409.84,438.63 L410.34,438.61 L410.84,438.58 L411.34,438.55 L411.84,438.50 L412.34,438.44 L412.85,438.37 L413.35,438.29 L413.85,438.21 L414.35,438.11 L414.85,438.01 L415.35,437.91 L415.85,437.80 L416.35,437.68 L416.85,437.57 L417.35,437.45 L417.85,437.33 L418.35,437.22 L418.85,437.09 L419.35,436.95 L419.85,436.81 L420.35,436.65 L420.86,436.49 L421.36,436.32 L421.86,436.15 L422.36,435.96 L422.86,435.77 L423.36,435.58 L423.86,435.38 L424.36,435.17 L424.86,434.96 L425.36,434.75 L425.86,434.53 L426.36,434.30 L426.86,434.06 L427.36,433.81 L427.86,433.54 L428.36,433.27 L428.87,432.99 L429.37,432.69 L429.87,432.39 L430.37,432.08 L430.87,431.76 L431.37,431.43 L431.87,431.09 L432.37,430.74 L432.87,430.38 L433.37,430.01 L433.87,429.63 L434.37,429.23 L434.87,428.82 L435.37,428.40 L435.87,427.96 L436.37,427.50 L436.87,427.03 L437.38,426.55 L437.88,426.04 L438.38,425.52 L438.88,424.99 L439.38,424.43 L439.88,423.85 L440.38,423.26 L440.88,422.64 L441.38,422.01 L441.88,421.35 L442.38,420.68 L442.88,419.99 L443.38,419.28 L443.88,418.55 L444.38,417.81 L444.88,417.04 L445.39,416.26 L445.89,415.46 L446.39,414.64 L446.89,413.81 L447.39,412.96 L447.89,412.09 L448.39,411.20 L448.89,410.28 L449.39,409.32 L449.89,408.30 L450.39,407.24 L450.89,406.14 L451.39,405.01 L451.89,403.84 L452.39,402.64 L452.89,401.42 L453.40,400.18 L453.90,398.92 L454.40,397.66 L454.90,396.38 L455.40,395.10 L455.90,393.82 L456.40,392.52 L456.90,391.15 L457.40,389.72 L457.90,388.26 L458.40,386.81 L458.90,385.38 L459.40,384.01 L459.90,382.73 L460.40,381.53 L460.90,380.33 L461.41,379.14 L461.91,377.97 L462.41,376.84 L462.91,375.76 L463.41,374.73 L463.91,373.76 L464.41,372.88 L464.91,372.08 L465.41,371.36 L465.91,370.66 L466.41,369.99 L466.91,369.34 L467.41,368.73 L467.91,368.17 L468.41,367.66 L468.91,367.22 L469.42,366.84 L469.92,366.54 L470.42,366.30 L470.92,366.07 L471.42,365.85 L471.92,365.64 L472.42,365.45 L472.92,365.28 L473.42,365.14 L473.92,365.03 L474.42,364.95 L474.92,364.91 L475.42,364.90 L475.92,364.93 L476.42,364.99 L476.92,365.07 L477.43,365.18 L477.93,365.31 L478.43,365.45 L478.93,365.61 L479.43,365.79 L479.93,365.97 L480.43,366.21 L480.93,366.58 L481.43,367.05 L481.93,367.62 L482.43,368.26 L482.93,368.96 L483.43,369.70 L483.93,370.45 L484.43,371.22 L484.93,371.97 L485.43,372.69 L485.94,373.42 L486.44,374.18 L486.94,374.96 L487.44,375.76 L487.94,376.58 L488.44,377.42 L488.94,378.28 L489.44,379.16 L489.94,380.06 L490.44,380.98 L490.94,381.91 L491.44,382.86 L491.94,383.82 L492.44,384.80 L492.94,385.79 L493.44,386.81 L493.95,387.87 L494.45,388.97 L494.95,390.10 L495.45,391.25 L495.95,392.43 L496.45,393.62 L496.95,394.83 L497.45,396.05 L497.95,397.27 L498.45,398.49 L498.95,399.71 L499.45,400.92 L499.95,402.11 L500.45,403.29 L500.95,404.46 L501.45,405.64 L501.96,406.83 L502.46,408.02 L502.96,409.22 L503.46,410.41 L503.96,411.61 L504.46,412.80 L504.96,413.98 L505.46,415.15 L505.96,416.31 L506.46,417.46 L506.96,418.60 L507.46,419.71 L507.96,420.80 L508.46,421.89 L508.96,422.97 L509.46,424.06 L509.97,425.12 L510.47,426.16 L510.97,427.15 L511.47,428.08 L511.97,428.95 L512.47,429.76 L512.97,430.53 L513.47,431.28 L513.97,431.99 L514.47,432.67 L514.97,433.31 L515.47,433.91 L515.97,434.47 L516.47,434.99 L516.97,435.49 L517.47,435.97 L517.98,436.42 L518.48,436.85 L518.98,437.25 L519.48,437.63 L519.98,437.98 L520.48,438.32 L520.98,438.64 L521.48,438.94 L521.98,439.22 L522.48,439.50 L522.98,439.76 L523.48,440.02 L523.98,440.28 L524.48,440.54 L524.98,440.79 L525.48,441.05 L525.99,441.31 L526.49,441.56 L526.99,441.81 L527.49,442.06 L527.99,442.31 L528.49,442.54 L528.99,442.78 L529.49,443.00 L529.99,443.22 L530.49,443.43 L530.99,443.64 L531.49,443.83 L531.99,444.03 L532.49,444.22 L532.99,444.40 L533.49,444.58 L534.00,444.76 L534.50,444.93 L535.00,445.10 L535.50,445.27 L536.00,445.42 L536.50,445.58 L537.00,445.72 L537.50,445.86 L538.00,446.00" fill="none" stroke="#d12d4e" stroke-width="1.50" stroke-linejoin="round" stroke-linecap="round"/>
<path d="M376.30,437.60 L376.80,437.67 L377.30,437.74 L377.80,437.81 L378.30,437.88 L378.80,437.95 L379.30,438.02 L379.80,438.09 L380.30,438.15 L380.81,438.22 L381.31,438.29 L381.81,438.36 L382.31,438.42 L382.81,438.49 L383.31,438.56 L383.81,438.62 L384.31,438.69 L384.81,438.76 L385.31,438.82 L385.81,438.88 L386.31,438.95 L386.81,439.01 L387.31,439.08 L387.81,439.14 L388.31,439.20 L388.82,439.27 L389.32,439.33 L389.82,439.39 L390.32,439.45 L390.82,439.51 L391.32,439.57 L391.82,439.63 L392.32,439.69 L392.82,439.75 L393.32,439.81 L393.82,439.87 L394.32,439.92 L394.82,439.98 L395.32,440.04 L395.82,440.09 L396.32,440.15 L396.83,440.21 L397.33,440.26 L397.83,440.32 L398.33,440.37 L398.83,440.43 L399.33,440.48 L399.83,440.54 L400.33,440.59 L400.83,440.64 L401.33,440.70 L401.83,440.75 L402.33,440.81 L402.83,440.86 L403.33,440.91 L403.83,440.96 L404.33,441.02 L404.84,441.07 L405.34,441.12 L405.84,441.17 L406.34,441.22 L406.84,441.27 L407.34,441.33 L407.84,441.38 L408.34,441.43 L408.84,441.48 L409.34,441.53 L409.84,441.57 L410.34,441.62 L410.84,441.67 L411.34,441.72 L411.84,441.77 L412.34,441.82 L412.85,441.86 L413.35,441.91 L413.85,441.96 L414.35,442.00 L414.85,442.05 L415.35,442.09 L415.85,442.14 L416.35,442.18 L416.85,442.23 L417.35,442.27 L417.85,442.32 L418.35,442.36 L418.85,442.40 L419.35,442.45 L419.85,442.49 L420.35,442.53 L420.86,442.57 L421.36,442.61 L421.86,442.65 L422.36,442.69 L422.86,442.74 L423.36,442.78 L423.86,442.82 L424.36,442.86 L424.86,442.90 L425.36,442.94 L425.86,442.97 L426.36,443.01 L426.86,443.05 L427.36,443.09 L427.86,443.13 L428.36,443.17 L428.87,443.21 L429.37,443.24 L429.87,443.28 L430.37,443.32 L430.87,443.35 L431.37,443.39 L431.87,443.43 L432.37,443.46 L432.87,443.50 L433.37,443.54 L433.87,443.57 L434.37,443.61 L434.87,443.64 L435.37,443.68 L435.87,443.71 L436.37,443.74 L436.87,443.78 L437.38,443.81 L437.88,443.85 L438.38,443.88 L438.88,443.91 L439.38,443.95 L439.88,443.98 L440.38,444.01 L440.88,444.04 L441.38,444.08 L441.88,444.11 L442.38,444.14 L442.88,444.17 L443.38,444.20 L443.88,444.23 L444.38,444.26 L444.88,444.29 L445.39,444.32 L445.89,444.35 L446.39,444.38 L446.89,444.42 L447.39,444.45 L447.89,444.48 L448.39,444.51 L448.89,444.54 L449.39,444.57 L449.89,444.60 L450.39,444.63 L450.89,444.66 L451.39,444.69 L451.89,444.73 L452.39,444.76 L452.89,444.79 L453.40,444.82 L453.90,444.85 L454.40,444.88 L454.90,444.91 L455.40,444.94 L455.90,444.97 L456.40,445.00 L456.90,445.02 L457.40,445.05 L457.90,445.08 L458.40,445.11 L458.90,445.14 L459.40,445.16 L459.90,445.19 L460.40,445.22 L460.90,445.24 L461.41,445.27 L461.91,445.29 L462.41,445.32 L462.91,445.34 L463.41,445.36 L463.91,445.38 L464.41,445.41 L464.91,445.43 L465.41,445.45 L465.91,445.47 L466.41,445.49 L466.91,445.50 L467.41,445.52 L467.91,445.54 L468.41,445.55 L468.91,445.57 L469.42,445.58 L469.92,445.60 L470.42,445.61 L470.92,445.62 L471.42,445.64 L471.92,445.65 L472.42,445.66 L472.92,445.67 L473.42,445.68 L473.92,445.69 L474.42,445.70 L474.92,445.72 L475.42,445.73 L475.92,445.74 L476.42,445.75 L476.92,445.76 L477.43,445.77 L477.93,445.78 L478.43,445.79 L478.93,445.80 L479.43,445.81 L479.93,445.81 L480.43,445.82 L480.93,445.83 L481.43,445.84 L481.93,445.85 L482.43,445.86 L482.93,445.87 L483.43,445.87 L483.93,445.88 L484.43,445.89 L484.93,445.90 L485.43,445.91 L485.94,445.91 L486.44,445.92 L486.94,445.93 L487.44,445.94 L487.94,445.94 L488.44,445.95 L488.94,445.96 L489.44,445.96 L489.94,445.97 L490.44,445.98 L490.94,445.98 L491.44,445.99 L491.94,446.00 L492.44,446.00 L492.94,446.01 L493.44,446.02 L493.95,446.02 L494.45,446.03 L494.95,446.04 L495.45,446.04 L495.95,446.05 L496.45,446.06 L496.95,446.06 L497.45,446.07 L497.95,446.07 L498.45,446.08 L498.95,446.09 L499.45,446.09 L499.95,446.10 L500.45,446.11 L500.95,446.11 L501.45,446.12 L501.96,446.13 L502.46,446.13 L502.96,446.14 L503.46,446.14 L503.96,446.15 L504.46,446.16 L504.96,446.17 L505.46,446.17 L505.96,446.18 L506.46,446.19 L506.96,446.19 L507.46,446.20 L507.96,446.21 L508.46,446.21 L508.96,446.22 L509.46,446.23 L509.97,446.23 L510.47,446.24 L510.97,446.25 L511.47,446.25 L511.97,446.26 L512.47,446.27 L512.97,446.27 L513.47,446.28 L513.97,446.28 L514.47,446.29 L514.97,446.30 L515.47,446.30 L515.97,446.31 L516.47,446.31 L516.97,446.32 L517.47,446.32 L517.98,446.33 L518.48,446.34 L518.98,446.34 L519.48,446.35 L519.98,446.35 L520.48,446.35 L520.98,446.36 L521.48,446.36 L521.98,446.37 L522.48,446.37 L522.98,446.37 L523.48,446.38 L523.98,446.38 L524.48,446.38 L524.98,446.39 L525.48,446.39 L525.99,446.39 L526.49,446.39 L526.99,446.39 L527.49,446.40 L527.99,446.40 L528.49,446.40 L528.99,446.40 L529.49,446.40 L529.99,446.40 L530.49,446.39 L530.99,446.38 L531.49,446.35 L531.99,446.31 L532.49,446.27 L532.99,446.21 L533.49,446.15 L534.00,446.09 L534.50,446.02 L535.00,445.95 L535.50,445.87 L536.00,445.80 L536.50,445.72 L537.00,445.64 L537.50,445.57 L538.00,445.50" fill="none" stroke="#a44ee0" stroke-width="1.60" stroke-linejoin="round" stroke-linecap="round"/>
<path d="M376.30,433.80 L376.80,433.71 L377.30,433.62 L377.80,433.51 L378.30,433.40 L378.80,433.29 L379.30,433.16 L379.80,433.03 L380.31,432.90 L380.81,432.75 L381.31,432.61 L381.81,432.45 L382.31,432.29 L382.81,432.13 L383.31,431.96 L383.81,431.79 L384.31,431.62 L384.81,431.44 L385.31,431.26 L385.81,431.07 L386.31,430.88 L386.81,430.68 L387.31,430.48 L387.81,430.27 L388.32,430.05 L388.82,429.82 L389.32,429.58 L389.82,429.34 L390.32,429.09 L390.82,428.82 L391.32,428.55 L391.82,428.27 L392.32,427.98 L392.82,427.67 L393.32,427.36 L393.82,427.03 L394.32,426.70 L394.82,426.35 L395.32,425.98 L395.83,425.59 L396.33,425.16 L396.83,424.70 L397.33,424.20 L397.83,423.67 L398.33,423.12 L398.83,422.53 L399.33,421.92 L399.83,421.30 L400.33,420.65 L400.83,419.98 L401.33,419.30 L401.83,418.61 L402.33,417.90 L402.83,417.19 L403.33,416.47 L403.84,415.75 L404.34,415.03 L404.84,414.31 L405.34,413.59 L405.84,412.87 L406.34,412.13 L406.84,411.38 L407.34,410.61 L407.84,409.83 L408.34,409.03 L408.84,408.22 L409.34,407.39 L409.84,406.55 L410.34,405.69 L410.84,404.82 L411.35,403.93 L411.85,403.03 L412.35,402.11 L412.85,401.19 L413.35,400.24 L413.85,399.27 L414.35,398.27 L414.85,397.24 L415.35,396.19 L415.85,395.12 L416.35,394.04 L416.85,392.94 L417.35,391.83 L417.85,390.71 L418.35,389.58 L418.85,388.45 L419.36,387.31 L419.86,386.18 L420.36,385.05 L420.86,383.92 L421.36,382.75 L421.86,381.56 L422.36,380.34 L422.86,379.12 L423.36,377.88 L423.86,376.65 L424.36,375.43 L424.86,374.23 L425.36,373.05 L425.86,371.92 L426.36,370.82 L426.86,369.77 L427.37,368.77 L427.87,367.77 L428.37,366.78 L428.87,365.80 L429.37,364.85 L429.87,363.91 L430.37,363.00 L430.87,362.13 L431.37,361.29 L431.87,360.49 L432.37,359.74 L432.87,359.05 L433.37,358.41 L433.87,357.81 L434.37,357.23 L434.88,356.67 L435.38,356.13 L435.88,355.62 L436.38,355.13 L436.88,354.66 L437.38,354.21 L437.88,353.79 L438.38,353.38 L438.88,353.01 L439.38,352.65 L439.88,352.31 L440.38,351.99 L440.88,351.68 L441.38,351.38 L441.88,351.09 L442.38,350.81 L442.89,350.54 L443.39,350.29 L443.89,350.05 L444.39,349.83 L444.89,349.62 L445.39,349.42 L445.89,349.24 L446.39,349.07 L446.89,348.89 L447.39,348.72 L447.89,348.54 L448.39,348.38 L448.89,348.21 L449.39,348.06 L449.89,347.91 L450.40,347.78 L450.90,347.65 L451.40,347.55 L451.90,347.46 L452.40,347.38 L452.90,347.33 L453.40,347.30 L453.90,347.29 L454.40,347.28 L454.90,347.27 L455.40,347.26 L455.90,347.25 L456.40,347.24 L456.90,347.23 L457.40,347.22 L457.90,347.22 L458.41,347.21 L458.91,347.21 L459.41,347.21 L459.91,347.20 L460.41,347.20 L460.91,347.20 L461.41,347.20 L461.91,347.23 L462.41,347.28 L462.91,347.34 L463.41,347.42 L463.91,347.52 L464.41,347.62 L464.91,347.74 L465.41,347.86 L465.92,347.98 L466.42,348.12 L466.92,348.31 L467.42,348.53 L467.92,348.79 L468.42,349.06 L468.92,349.34 L469.42,349.63 L469.92,349.90 L470.42,350.17 L470.92,350.43 L471.42,350.68 L471.92,350.95 L472.42,351.22 L472.92,351.51 L473.42,351.82 L473.93,352.15 L474.43,352.51 L474.93,352.89 L475.43,353.31 L475.93,353.75 L476.43,354.22 L476.93,354.70 L477.43,355.22 L477.93,355.75 L478.43,356.32 L478.93,356.92 L479.43,357.56 L479.93,358.22 L480.43,358.92 L480.93,359.65 L481.44,360.40 L481.94,361.19 L482.44,362.02 L482.94,362.91 L483.44,363.82 L483.94,364.78 L484.44,365.76 L484.94,366.76 L485.44,367.79 L485.94,368.85 L486.44,369.96 L486.94,371.10 L487.44,372.27 L487.94,373.47 L488.44,374.68 L488.94,375.92 L489.45,377.17 L489.95,378.42 L490.45,379.68 L490.95,380.93 L491.45,382.18 L491.95,383.41 L492.45,384.63 L492.95,385.82 L493.45,387.00 L493.95,388.17 L494.45,389.35 L494.95,390.52 L495.45,391.68 L495.95,392.85 L496.45,394.01 L496.95,395.17 L497.46,396.33 L497.96,397.49 L498.46,398.65 L498.96,399.82 L499.46,400.98 L499.96,402.14 L500.46,403.31 L500.96,404.48 L501.46,405.66 L501.96,406.86 L502.46,408.06 L502.96,409.27 L503.46,410.47 L503.96,411.68 L504.46,412.87 L504.97,414.06 L505.47,415.24 L505.97,416.40 L506.47,417.54 L506.97,418.66 L507.47,419.76 L507.97,420.83 L508.47,421.87 L508.97,422.90 L509.47,423.92 L509.97,424.92 L510.47,425.89 L510.97,426.83 L511.47,427.72 L511.97,428.56 L512.47,429.36 L512.98,430.14 L513.48,430.90 L513.98,431.63 L514.48,432.33 L514.98,432.98 L515.48,433.60 L515.98,434.18 L516.48,434.72 L516.98,435.25 L517.48,435.76 L517.98,436.24 L518.48,436.69 L518.98,437.10 L519.48,437.47 L519.98,437.79 L520.49,438.08 L520.99,438.35 L521.49,438.61 L521.99,438.86 L522.49,439.10 L522.99,439.31 L523.49,439.52 L523.99,439.70 L524.49,439.87 L524.99,440.01 L525.49,440.13 L525.99,440.24 L526.49,440.34 L526.99,440.43 L527.49,440.52 L527.99,440.61 L528.50,440.69 L529.00,440.77 L529.50,440.83 L530.00,440.89 L530.50,440.94 L531.00,440.97 L531.50,440.99 L532.00,441.00" fill="none" stroke="#3e1428" stroke-width="1.75" stroke-linejoin="round" stroke-linecap="round"/>
<polyline points="326.20,442.30 327.20,439.73 328.20,437.75 329.20,437.58 330.20,437.95 331.20,441.79 332.20,443.83 333.20,443.95 334.20,444.18 335.20,444.50 336.20,444.70 337.20,441.82 338.20,439.20 339.20,438.26 340.20,438.60 341.20,440.12 342.20,440.50 343.20,436.68 344.20,439.21 345.20,442.00 346.20,437.43 347.20,436.94 348.20,437.25 349.20,438.23 350.20,438.33 351.20,437.84 352.20,437.27 353.20,436.46 354.20,437.61 355.20,436.55 356.20,435.95 357.20,434.65 358.20,436.62 359.20,437.70 360.20,437.36 361.20,436.90 362.20,436.92 363.20,437.60 364.20,435.92 365.20,435.70 366.20,435.24 367.20,434.08 368.20,433.77 369.20,434.30 370.20,436.44 371.20,438.64 372.20,441.30 373.20,441.25 374.20,439.90 375.20,434.38 376.20,434.76" fill="none" stroke="#a44ee0" stroke-width="1.30" stroke-linejoin="round"/>
<polyline points="326.20,441.50 327.20,438.93 328.20,436.95 329.20,436.78 330.20,437.15 331.20,440.99 332.20,443.03 333.20,443.15 334.20,443.38 335.20,443.70 336.20,443.90 337.20,441.02 338.20,438.40 339.20,437.46 340.20,437.80 341.20,439.32 342.20,439.70 343.20,435.88 344.20,438.41 345.20,441.20 346.20,436.63 347.20,436.14 348.20,436.45 349.20,437.43 350.20,437.53 351.20,437.04 352.20,436.47 353.20,435.66 354.20,436.81 355.20,435.75 356.20,435.15 357.20,433.85 358.20,435.82 359.20,436.90 360.20,436.56 361.20,436.10 362.20,436.12 363.20,436.80 364.20,435.12 365.20,434.90 366.20,434.44 367.20,433.28 368.20,432.97 369.20,433.50 370.20,435.64 371.20,437.84 372.20,440.50 373.20,440.45 374.20,439.10 375.20,433.58 376.20,433.96" fill="none" stroke="#3e1428" stroke-width="1.70" stroke-linejoin="round"/>
<polyline points="532.00,441.80 533.00,441.66 534.00,442.92 535.00,443.27 536.00,443.08 537.00,442.43 538.00,442.50 539.00,444.56 540.00,447.74 541.00,445.40 542.00,444.72 543.00,445.40 544.00,451.10 545.00,447.67 546.00,444.92 547.00,443.57 548.00,445.86 549.00,447.15 550.00,447.92 551.00,448.14 552.00,448.76 553.00,449.15 554.00,450.00 555.00,450.63 556.00,451.10 557.00,451.27 558.00,452.49 559.00,454.70 560.00,452.45 561.00,449.90 562.00,448.22 563.00,449.90 564.00,450.80 565.00,452.12 566.00,454.79 567.00,452.90 568.00,449.03 569.00,447.74 570.00,449.07 571.00,448.62 572.00,448.47 573.00,448.84 574.00,447.45 575.00,447.62 576.00,449.30 577.00,449.43 578.00,449.90 579.00,451.50 580.00,450.73 581.00,449.60 582.00,449.06 583.00,449.54 584.00,449.13 585.00,449.35 586.00,450.60 587.00,452.88" fill="none" stroke="#a44ee0" stroke-width="1.30" stroke-linejoin="round"/>
<polyline points="532.00,441.00 533.00,440.86 534.00,442.12 535.00,442.47 536.00,442.28 537.00,441.63 538.00,441.70 539.00,443.76 540.00,446.94 541.00,444.60 542.00,443.92 543.00,444.60 544.00,450.30 545.00,446.87 546.00,444.12 547.00,442.77 548.00,445.06 549.00,446.35 550.00,447.12 551.00,447.34 552.00,447.96 553.00,448.35 554.00,449.20 555.00,449.83 556.00,450.30 557.00,450.47 558.00,451.69 559.00,453.90 560.00,451.65 561.00,449.10 562.00,447.42 563.00,449.10 564.00,450.00 565.00,451.32 566.00,453.99 567.00,452.10 568.00,448.23 569.00,446.94 570.00,448.27 571.00,447.82 572.00,447.67 573.00,448.04 574.00,446.65 575.00,446.82 576.00,448.50 577.00,448.63 578.00,449.10 579.00,450.70 580.00,449.93 581.00,448.80 582.00,448.26 583.00,448.74 584.00,448.33 585.00,448.55 586.00,449.80 587.00,452.08" fill="none" stroke="#3e1428" stroke-width="1.70" stroke-linejoin="round"/>
<circle cx="380.00" cy="433.00" r="0.95" fill="#1a1a1a"/>
<circle cx="384.20" cy="433.20" r="0.95" fill="#1a1a1a"/>
<circle cx="388.30" cy="429.10" r="0.95" fill="#1a1a1a"/>
<circle cx="394.40" cy="434.20" r="0.95" fill="#1a1a1a"/>
<circle cx="395.40" cy="427.00" r="0.95" fill="#1a1a1a"/>
<circle cx="399.50" cy="424.00" r="0.95" fill="#1a1a1a"/>
<circle cx="402.00" cy="419.50" r="0.95" fill="#1a1a1a"/>
<circle cx="404.70" cy="413.70" r="0.95" fill="#1a1a1a"/>
<circle cx="407.50" cy="409.00" r="0.95" fill="#1a1a1a"/>
<circle cx="409.80" cy="404.50" r="0.95" fill="#1a1a1a"/>
<circle cx="411.80" cy="400.40" r="0.95" fill="#1a1a1a"/>
<circle cx="414.90" cy="395.30" r="0.95" fill="#1a1a1a"/>
<circle cx="417.90" cy="389.20" r="0.95" fill="#1a1a1a"/>
<circle cx="421.00" cy="380.00" r="0.95" fill="#1a1a1a"/>
<circle cx="423.00" cy="374.00" r="0.95" fill="#1a1a1a"/>
<circle cx="425.10" cy="367.70" r="0.95" fill="#1a1a1a"/>
<circle cx="427.10" cy="365.70" r="0.95" fill="#1a1a1a"/>
<circle cx="429.20" cy="361.60" r="0.95" fill="#1a1a1a"/>
<circle cx="431.20" cy="359.50" r="0.95" fill="#1a1a1a"/>
<circle cx="430.20" cy="366.70" r="0.95" fill="#1a1a1a"/>
<circle cx="435.30" cy="361.60" r="0.95" fill="#1a1a1a"/>
<circle cx="434.30" cy="355.40" r="0.95" fill="#1a1a1a"/>
<circle cx="437.40" cy="354.40" r="0.95" fill="#1a1a1a"/>
<circle cx="441.50" cy="353.40" r="0.95" fill="#1a1a1a"/>
<circle cx="444.50" cy="349.30" r="0.95" fill="#1a1a1a"/>
<circle cx="448.60" cy="347.30" r="0.95" fill="#1a1a1a"/>
<circle cx="451.70" cy="346.20" r="0.95" fill="#1a1a1a"/>
<circle cx="454.50" cy="346.00" r="0.95" fill="#1a1a1a"/>
<circle cx="457.80" cy="343.20" r="0.95" fill="#1a1a1a"/>
<circle cx="460.90" cy="342.20" r="0.95" fill="#1a1a1a"/>
<circle cx="462.90" cy="344.20" r="0.95" fill="#1a1a1a"/>
<circle cx="465.00" cy="345.50" r="0.95" fill="#1a1a1a"/>
<circle cx="468.20" cy="344.10" r="0.95" fill="#1a1a1a"/>
<circle cx="471.00" cy="349.50" r="0.95" fill="#1a1a1a"/>
<circle cx="473.90" cy="355.40" r="0.95" fill="#1a1a1a"/>
<circle cx="476.70" cy="358.20" r="0.95" fill="#1a1a1a"/>
<circle cx="479.50" cy="360.50" r="0.95" fill="#1a1a1a"/>
<circle cx="482.40" cy="363.90" r="0.95" fill="#1a1a1a"/>
<circle cx="485.00" cy="368.00" r="0.95" fill="#1a1a1a"/>
<circle cx="488.00" cy="372.40" r="0.95" fill="#1a1a1a"/>
<circle cx="491.50" cy="381.00" r="0.95" fill="#1a1a1a"/>
<circle cx="495.00" cy="389.30" r="0.95" fill="#1a1a1a"/>
<circle cx="499.30" cy="400.60" r="0.95" fill="#1a1a1a"/>
<circle cx="502.50" cy="406.00" r="0.95" fill="#1a1a1a"/>
<circle cx="506.00" cy="415.50" r="0.95" fill="#1a1a1a"/>
<circle cx="510.60" cy="426.00" r="0.95" fill="#1a1a1a"/>
<circle cx="514.00" cy="432.50" r="0.95" fill="#1a1a1a"/>
<circle cx="517.70" cy="437.30" r="0.95" fill="#1a1a1a"/>
<circle cx="521.00" cy="438.50" r="0.95" fill="#1a1a1a"/>
<circle cx="524.70" cy="440.20" r="0.95" fill="#1a1a1a"/>
<circle cx="528.00" cy="441.00" r="0.95" fill="#1a1a1a"/>
<rect x="325.70" y="263.30" width="109.90" height="71.10" fill="#fff" stroke="#6f8482" stroke-width="1.4"/>
<path d="M325.70,475.60 L325.70,263.30 L588.20,263.30 L588.20,475.60" fill="none" stroke="#3c3c3c" stroke-width="1.7" stroke-linecap="square"/>
<line x1="324.90" y1="475.60" x2="589.00" y2="475.60" stroke="#5a5a76" stroke-width="1.8"/>
<line x1="325.70" y1="475.60" x2="325.70" y2="479.60" stroke="#2e2e3a" stroke-width="1.3"/>
<text transform="translate(325.70,492.60) scale(0.93,1)" class="tk">538</text>
<line x1="347.57" y1="475.60" x2="347.57" y2="478.00" stroke="#2e2e3a" stroke-width="1.2"/>
<line x1="369.45" y1="475.60" x2="369.45" y2="479.60" stroke="#2e2e3a" stroke-width="1.3"/>
<text transform="translate(369.45,492.60) scale(0.93,1)" class="tk">536</text>
<line x1="391.32" y1="475.60" x2="391.32" y2="478.00" stroke="#2e2e3a" stroke-width="1.2"/>
<line x1="413.20" y1="475.60" x2="413.20" y2="479.60" stroke="#2e2e3a" stroke-width="1.3"/>
<text transform="translate(413.20,492.60) scale(0.93,1)" class="tk">534</text>
<line x1="435.07" y1="475.60" x2="435.07" y2="478.00" stroke="#2e2e3a" stroke-width="1.2"/>
<line x1="456.95" y1="475.60" x2="456.95" y2="479.60" stroke="#2e2e3a" stroke-width="1.3"/>
<text transform="translate(456.95,492.60) scale(0.93,1)" class="tk">532</text>
<line x1="478.83" y1="475.60" x2="478.83" y2="478.00" stroke="#2e2e3a" stroke-width="1.2"/>
<line x1="500.70" y1="475.60" x2="500.70" y2="479.60" stroke="#2e2e3a" stroke-width="1.3"/>
<text transform="translate(500.70,492.60) scale(0.93,1)" class="tk">530</text>
<line x1="522.58" y1="475.60" x2="522.58" y2="478.00" stroke="#2e2e3a" stroke-width="1.2"/>
<line x1="544.45" y1="475.60" x2="544.45" y2="479.60" stroke="#2e2e3a" stroke-width="1.3"/>
<text transform="translate(544.45,492.60) scale(0.93,1)" class="tk">528</text>
<line x1="566.33" y1="475.60" x2="566.33" y2="478.00" stroke="#2e2e3a" stroke-width="1.2"/>
<line x1="588.20" y1="475.60" x2="588.20" y2="479.60" stroke="#2e2e3a" stroke-width="1.3"/>
<text transform="translate(588.20,492.60) scale(0.93,1)" class="tk">526</text>
<circle cx="327.00" cy="271.60" r="0.85" fill="#222"/>
<circle cx="333.00" cy="271.60" r="0.85" fill="#222"/>
<circle cx="339.00" cy="271.60" r="0.85" fill="#222"/>
<circle cx="345.00" cy="271.60" r="0.85" fill="#222"/>
<circle cx="351.00" cy="271.60" r="0.85" fill="#222"/>
<text x="359.30" y="276.60" class="cjk">实验</text>
<line x1="327.00" y1="285.00" x2="352.00" y2="285.00" stroke="#d12d4e" stroke-width="1.8"/>
<text x="354.00" y="288.70" class="lg">O 1s, organic C-O</text>
<line x1="327.00" y1="298.60" x2="352.00" y2="298.60" stroke="#7ddc5a" stroke-width="1.8"/>
<text x="354.00" y="302.30" class="lg">O 1s, organic C=O</text>
<line x1="327.00" y1="313.00" x2="352.00" y2="313.00" stroke="#a44ee0" stroke-width="1.8"/>
<text x="360.00" y="316.40" class="cjk">背景</text>
<line x1="327.00" y1="326.60" x2="352.00" y2="326.60" stroke="#3e1428" stroke-width="1.8"/>
<text x="360.00" y="329.90" class="cjk">适应性</text>
<text x="537.00" y="294.50" class="big">(d)</text>
<text transform="translate(314.00,363.00) rotate(-90)" class="cps">CPS</text>
<text x="439.20" y="510.00" class="cjkx">结合能</text>
<text transform="translate(488.30,510.00) scale(0.9,1)" class="evx">(eV)</text>
</svg></body></html>
